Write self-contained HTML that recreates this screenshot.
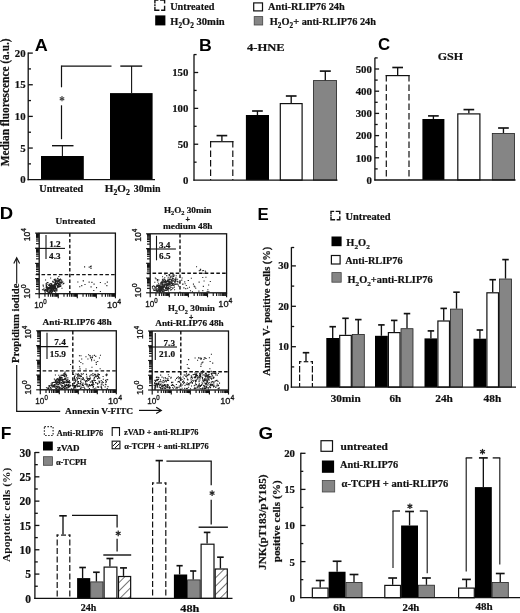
<!DOCTYPE html>
<html><head><meta charset="utf-8"><style>
html,body{margin:0;padding:0;background:#fff;}
body{width:520px;height:613px;overflow:hidden;}
svg{display:block;filter:grayscale(1) blur(0.3px);}
</style></head><body>
<svg width="520" height="613" viewBox="0 0 520 613">
<defs>
<pattern id="hatch" patternUnits="userSpaceOnUse" width="5.9" height="5.9" patternTransform="rotate(45)">
<rect width="5.9" height="5.9" fill="#fff"/><line x1="0" y1="0" x2="0" y2="5.9" stroke="#111" stroke-width="1.15"/>
</pattern>
</defs>
<rect width="520" height="613" fill="#fff"/>
<path d="M154.9 3.43V0.1H158.39M160.06 0.1H164.6V3.43M164.6 5.87V10.2H161.11M159.44 10.2H154.9V6.87M154.9 4.35V5.95" fill="none" stroke="#111" stroke-width="1.4"/>
<text x="170.24" y="9.6" font-family='"Liberation Serif", serif' font-size="10.3" font-weight="bold" fill="#111" textLength="44.15" lengthAdjust="spacingAndGlyphs" stroke="#111" stroke-width="0.2">Untreated</text>
<rect x="155.2" y="15.4" width="10.2" height="10" fill="#000"/>
<text x="170.34" y="25.4" font-family='"Liberation Serif", serif' font-size="10.3" font-weight="bold" fill="#111" textLength="23.45" lengthAdjust="spacingAndGlyphs" stroke="#111" stroke-width="0.2">H<tspan font-size="7.21" dy="3.09">2</tspan><tspan dy="-3.09">O</tspan><tspan font-size="7.21" dy="3.09">2</tspan></text>
<text x="196.53" y="25.4" font-family='"Liberation Serif", serif' font-size="10.3" font-weight="bold" fill="#111" textLength="28.25" lengthAdjust="spacingAndGlyphs" stroke="#111" stroke-width="0.2">30min</text>
<rect x="253.7" y="2.9" width="8.8" height="8" fill="#fff" stroke="#111" stroke-width="1.2"/>
<text x="268.1" y="10" font-family='"Liberation Serif", serif' font-size="10.3" font-weight="bold" fill="#111" textLength="76.69" lengthAdjust="spacingAndGlyphs" stroke="#111" stroke-width="0.2">Anti-RLIP76 24h</text>
<rect x="254.2" y="16.6" width="8.5" height="8.4" fill="#858585" stroke="#444" stroke-width="0.8"/>
<text x="269.85" y="25.4" font-family='"Liberation Serif", serif' font-size="10.3" font-weight="bold" fill="#111" textLength="106.11" lengthAdjust="spacingAndGlyphs" stroke="#111" stroke-width="0.2">H<tspan font-size="7.21" dy="3.09">2</tspan><tspan dy="-3.09">O</tspan><tspan font-size="7.21" dy="3.09">2</tspan><tspan dy="-3.09">+ anti-RLIP76 24h</tspan></text>
<text x="34.75" y="50.6" font-family='"Liberation Sans", sans-serif' font-size="17" font-weight="bold" fill="#000" textLength="13.04" lengthAdjust="spacingAndGlyphs">A</text>
<line x1="28.2" y1="52.5" x2="28.2" y2="180.3" stroke="#111" stroke-width="1.3"/>
<text x="20.23" y="183.4" font-family='"Liberation Serif", serif' font-size="10.8" font-weight="bold" fill="#111" textLength="5.4" lengthAdjust="spacingAndGlyphs" stroke="#111" stroke-width="0.2">0</text>
<line x1="28.2" y1="148.05" x2="32.8" y2="148.05" stroke="#111" stroke-width="1.3"/>
<text x="20.18" y="151.75" font-family='"Liberation Serif", serif' font-size="10.8" font-weight="bold" fill="#111" textLength="5.4" lengthAdjust="spacingAndGlyphs" stroke="#111" stroke-width="0.2">5</text>
<line x1="28.2" y1="116.4" x2="32.8" y2="116.4" stroke="#111" stroke-width="1.3"/>
<text x="14.83" y="120.1" font-family='"Liberation Serif", serif' font-size="10.8" font-weight="bold" fill="#111" textLength="10.8" lengthAdjust="spacingAndGlyphs" stroke="#111" stroke-width="0.2">10</text>
<line x1="28.2" y1="84.75" x2="32.8" y2="84.75" stroke="#111" stroke-width="1.3"/>
<text x="14.78" y="88.45" font-family='"Liberation Serif", serif' font-size="10.8" font-weight="bold" fill="#111" textLength="10.8" lengthAdjust="spacingAndGlyphs" stroke="#111" stroke-width="0.2">15</text>
<line x1="28.2" y1="53.1" x2="32.8" y2="53.1" stroke="#111" stroke-width="1.3"/>
<text x="14.83" y="56.8" font-family='"Liberation Serif", serif' font-size="10.8" font-weight="bold" fill="#111" textLength="10.8" lengthAdjust="spacingAndGlyphs" stroke="#111" stroke-width="0.2">20</text>
<line x1="28.2" y1="163.88" x2="31" y2="163.88" stroke="#111" stroke-width="1.3"/>
<line x1="28.2" y1="132.22" x2="31" y2="132.22" stroke="#111" stroke-width="1.3"/>
<line x1="28.2" y1="100.57" x2="31" y2="100.57" stroke="#111" stroke-width="1.3"/>
<line x1="28.2" y1="68.92" x2="31" y2="68.92" stroke="#111" stroke-width="1.3"/>
<text x="9.5" y="166.27" font-family='"Liberation Serif", serif' font-size="11.8" font-weight="bold" fill="#111" textLength="127.85" lengthAdjust="spacingAndGlyphs" stroke="#111" stroke-width="0.2" transform="rotate(-90 9.5 166.27)">Median fluorescence (a.u.)</text>
<rect x="41" y="156" width="42.8" height="23.7" fill="#000"/>
<rect x="110" y="93.1" width="42.6" height="86.6" fill="#000"/>
<line x1="62.4" y1="156" x2="62.4" y2="145.7" stroke="#111" stroke-width="1.1"/>
<line x1="52" y1="145.7" x2="73.5" y2="145.7" stroke="#111" stroke-width="1.4"/>
<line x1="131.6" y1="93.1" x2="131.6" y2="66.1" stroke="#111" stroke-width="1.1"/>
<line x1="120.3" y1="66.1" x2="142.2" y2="66.1" stroke="#111" stroke-width="1.4"/>
<line x1="61.5" y1="66.1" x2="111.5" y2="66.1" stroke="#111" stroke-width="1.3"/>
<line x1="61.5" y1="65.5" x2="61.5" y2="87.3" stroke="#111" stroke-width="1.2"/>
<line x1="61.5" y1="105.3" x2="61.5" y2="139.2" stroke="#111" stroke-width="1.2"/>
<line x1="62" y1="96.1" x2="62" y2="101.3" stroke="#444" stroke-width="1.15"/>
<line x1="59.75" y1="97.4" x2="64.25" y2="100" stroke="#444" stroke-width="1.15"/>
<line x1="64.25" y1="97.4" x2="59.75" y2="100" stroke="#444" stroke-width="1.15"/>
<text x="39.35" y="191.6" font-family='"Liberation Serif", serif' font-size="10.2" font-weight="bold" fill="#111" textLength="43.75" lengthAdjust="spacingAndGlyphs" stroke="#111" stroke-width="0.2">Untreated</text>
<text x="104.83" y="191.9" font-family='"Liberation Serif", serif' font-size="10.4" font-weight="bold" fill="#111" textLength="24.98" lengthAdjust="spacingAndGlyphs" stroke="#111" stroke-width="0.2">H<tspan font-size="7.28" dy="3.12">2</tspan><tspan dy="-3.12">O</tspan><tspan font-size="7.28" dy="3.12">2</tspan></text>
<text x="133.85" y="191.9" font-family='"Liberation Serif", serif' font-size="10.4" font-weight="bold" fill="#111" textLength="26.72" lengthAdjust="spacingAndGlyphs" stroke="#111" stroke-width="0.2">30min</text>
<text x="198.95" y="50.5" font-family='"Liberation Sans", sans-serif' font-size="17" font-weight="bold" fill="#000" textLength="12.79" lengthAdjust="spacingAndGlyphs">B</text>
<text x="247.01" y="51" font-family='"Liberation Serif", serif' font-size="10.8" font-weight="bold" fill="#111" textLength="37.62" lengthAdjust="spacingAndGlyphs" stroke="#111" stroke-width="0.2">4-HNE</text>
<line x1="194" y1="54.3" x2="194" y2="180.7" stroke="#111" stroke-width="1.3"/>
<text x="183.03" y="183.9" font-family='"Liberation Serif", serif' font-size="10.8" font-weight="bold" fill="#111" textLength="5.4" lengthAdjust="spacingAndGlyphs" stroke="#111" stroke-width="0.2">0</text>
<line x1="194" y1="162.17" x2="196.6" y2="162.17" stroke="#111" stroke-width="1.3"/>
<line x1="194" y1="144.23" x2="198.2" y2="144.23" stroke="#111" stroke-width="1.3"/>
<text x="177.63" y="148.03" font-family='"Liberation Serif", serif' font-size="10.8" font-weight="bold" fill="#111" textLength="10.8" lengthAdjust="spacingAndGlyphs" stroke="#111" stroke-width="0.2">50</text>
<line x1="194" y1="126.3" x2="196.6" y2="126.3" stroke="#111" stroke-width="1.3"/>
<line x1="194" y1="108.37" x2="198.2" y2="108.37" stroke="#111" stroke-width="1.3"/>
<text x="172.23" y="112.17" font-family='"Liberation Serif", serif' font-size="10.8" font-weight="bold" fill="#111" textLength="16.2" lengthAdjust="spacingAndGlyphs" stroke="#111" stroke-width="0.2">100</text>
<line x1="194" y1="90.43" x2="196.6" y2="90.43" stroke="#111" stroke-width="1.3"/>
<line x1="194" y1="72.5" x2="198.2" y2="72.5" stroke="#111" stroke-width="1.3"/>
<text x="172.23" y="76.3" font-family='"Liberation Serif", serif' font-size="10.8" font-weight="bold" fill="#111" textLength="16.2" lengthAdjust="spacingAndGlyphs" stroke="#111" stroke-width="0.2">150</text>
<line x1="194" y1="54.57" x2="196.6" y2="54.57" stroke="#111" stroke-width="1.3"/>
<line x1="210" y1="141.7" x2="233.4" y2="141.7" stroke="#111" stroke-width="1.2"/>
<line x1="210.6" y1="141.1" x2="210.6" y2="180.1" stroke="#111" stroke-width="1.2" stroke-dasharray="6.5,3" stroke-dashoffset="0"/>
<line x1="232.8" y1="141.1" x2="232.8" y2="180.1" stroke="#111" stroke-width="1.2" stroke-dasharray="6.5,3" stroke-dashoffset="0"/>
<line x1="221.9" y1="141.1" x2="221.9" y2="135.6" stroke="#111" stroke-width="1.35"/>
<line x1="216.55" y1="135.6" x2="227.25" y2="135.6" stroke="#111" stroke-width="1.65"/>
<rect x="245.9" y="115" width="23.1" height="65.1" fill="#000"/>
<line x1="257.45" y1="115" x2="257.45" y2="111" stroke="#111" stroke-width="1.35"/>
<line x1="252.1" y1="111" x2="262.8" y2="111" stroke="#111" stroke-width="1.65"/>
<rect x="280.3" y="103.6" width="21.8" height="76.5" fill="#fff" stroke="#111" stroke-width="1.2"/>
<line x1="291.2" y1="103" x2="291.2" y2="96" stroke="#111" stroke-width="1.35"/>
<line x1="285.85" y1="96" x2="296.55" y2="96" stroke="#111" stroke-width="1.65"/>
<rect x="313.4" y="80.6" width="23.2" height="99.5" fill="#858585" stroke="#222" stroke-width="0.8"/>
<line x1="325.3" y1="80.2" x2="325.3" y2="71.1" stroke="#111" stroke-width="1.35"/>
<line x1="319.8" y1="71.1" x2="330.8" y2="71.1" stroke="#111" stroke-width="1.65"/>
<text x="378.03" y="50.3" font-family='"Liberation Sans", sans-serif' font-size="17" font-weight="bold" fill="#000" textLength="12.13" lengthAdjust="spacingAndGlyphs">C</text>
<text x="437.7" y="60.2" font-family='"Liberation Serif", serif' font-size="10.8" font-weight="bold" fill="#111" textLength="25.3" lengthAdjust="spacingAndGlyphs" stroke="#111" stroke-width="0.2">GSH</text>
<line x1="374.9" y1="57.7" x2="374.9" y2="180.6" stroke="#111" stroke-width="1.3"/>
<text x="366.53" y="183.8" font-family='"Liberation Serif", serif' font-size="10.8" font-weight="bold" fill="#111" textLength="5.4" lengthAdjust="spacingAndGlyphs" stroke="#111" stroke-width="0.2">0</text>
<line x1="374.9" y1="168.9" x2="377.7" y2="168.9" stroke="#111" stroke-width="1.3"/>
<line x1="374.9" y1="157.8" x2="379.1" y2="157.8" stroke="#111" stroke-width="1.3"/>
<text x="355.73" y="161.6" font-family='"Liberation Serif", serif' font-size="10.8" font-weight="bold" fill="#111" textLength="16.2" lengthAdjust="spacingAndGlyphs" stroke="#111" stroke-width="0.2">100</text>
<line x1="374.9" y1="146.7" x2="377.7" y2="146.7" stroke="#111" stroke-width="1.3"/>
<line x1="374.9" y1="135.6" x2="379.1" y2="135.6" stroke="#111" stroke-width="1.3"/>
<text x="355.73" y="139.4" font-family='"Liberation Serif", serif' font-size="10.8" font-weight="bold" fill="#111" textLength="16.2" lengthAdjust="spacingAndGlyphs" stroke="#111" stroke-width="0.2">200</text>
<line x1="374.9" y1="124.5" x2="377.7" y2="124.5" stroke="#111" stroke-width="1.3"/>
<line x1="374.9" y1="113.4" x2="379.1" y2="113.4" stroke="#111" stroke-width="1.3"/>
<text x="355.73" y="117.2" font-family='"Liberation Serif", serif' font-size="10.8" font-weight="bold" fill="#111" textLength="16.2" lengthAdjust="spacingAndGlyphs" stroke="#111" stroke-width="0.2">300</text>
<line x1="374.9" y1="102.3" x2="377.7" y2="102.3" stroke="#111" stroke-width="1.3"/>
<line x1="374.9" y1="91.2" x2="379.1" y2="91.2" stroke="#111" stroke-width="1.3"/>
<text x="355.73" y="95" font-family='"Liberation Serif", serif' font-size="10.8" font-weight="bold" fill="#111" textLength="16.2" lengthAdjust="spacingAndGlyphs" stroke="#111" stroke-width="0.2">400</text>
<line x1="374.9" y1="80.1" x2="377.7" y2="80.1" stroke="#111" stroke-width="1.3"/>
<line x1="374.9" y1="69" x2="379.1" y2="69" stroke="#111" stroke-width="1.3"/>
<text x="355.73" y="72.8" font-family='"Liberation Serif", serif' font-size="10.8" font-weight="bold" fill="#111" textLength="16.2" lengthAdjust="spacingAndGlyphs" stroke="#111" stroke-width="0.2">500</text>
<line x1="374.9" y1="57.9" x2="377.7" y2="57.9" stroke="#111" stroke-width="1.3"/>
<line x1="385.7" y1="75.6" x2="409.6" y2="75.6" stroke="#111" stroke-width="1.2"/>
<line x1="386.3" y1="75" x2="386.3" y2="180" stroke="#111" stroke-width="1.2" stroke-dasharray="6.5,3" stroke-dashoffset="0"/>
<line x1="409" y1="75" x2="409" y2="180" stroke="#111" stroke-width="1.2" stroke-dasharray="6.5,3" stroke-dashoffset="0"/>
<line x1="397.65" y1="75" x2="397.65" y2="67.5" stroke="#111" stroke-width="1.35"/>
<line x1="392.3" y1="67.5" x2="403" y2="67.5" stroke="#111" stroke-width="1.65"/>
<rect x="422.4" y="119" width="22" height="61" fill="#000"/>
<line x1="433.4" y1="119" x2="433.4" y2="115.9" stroke="#111" stroke-width="1.35"/>
<line x1="428.05" y1="115.9" x2="438.75" y2="115.9" stroke="#111" stroke-width="1.65"/>
<rect x="457.8" y="113.9" width="22.1" height="66.1" fill="#fff" stroke="#111" stroke-width="1.2"/>
<line x1="468.85" y1="113.3" x2="468.85" y2="109.6" stroke="#111" stroke-width="1.35"/>
<line x1="463.5" y1="109.6" x2="474.2" y2="109.6" stroke="#111" stroke-width="1.65"/>
<rect x="492.3" y="133.4" width="22.3" height="46.6" fill="#858585" stroke="#222" stroke-width="0.8"/>
<line x1="503.45" y1="133" x2="503.45" y2="128" stroke="#111" stroke-width="1.35"/>
<line x1="498.1" y1="128" x2="508.8" y2="128" stroke="#111" stroke-width="1.65"/>
<text x="-0.2" y="219.3" font-family='"Liberation Sans", sans-serif' font-size="17" font-weight="bold" fill="#000" textLength="13.39" lengthAdjust="spacingAndGlyphs">D</text>
<text x="55.57" y="223.5" font-family='"Liberation Serif", serif' font-size="9.2" font-weight="bold" fill="#111" textLength="39.92" lengthAdjust="spacingAndGlyphs" stroke="#111" stroke-width="0.2">Untreated</text>
<path d="M52.63 286.95h1.1v1.1h-1.1zM60.54 283.12h1.1v1.1h-1.1zM46.09 290.53h1.1v1.1h-1.1zM56.74 282.85h1.1v1.1h-1.1zM43.35 287.65h1.1v1.1h-1.1zM52.7 284.8h1.1v1.1h-1.1zM58.12 281.06h1.1v1.1h-1.1zM60.59 280.73h1.1v1.1h-1.1zM62.43 283.49h1.1v1.1h-1.1zM46.49 288.71h1.1v1.1h-1.1zM54.92 286.23h1.1v1.1h-1.1zM52.27 287.93h1.1v1.1h-1.1zM56.35 282.86h1.1v1.1h-1.1zM52.37 289.97h1.1v1.1h-1.1zM51.18 285.97h1.1v1.1h-1.1zM45.95 282.67h1.1v1.1h-1.1zM47.33 289.05h1.1v1.1h-1.1zM60.19 285.84h1.1v1.1h-1.1zM45.14 288.95h1.1v1.1h-1.1zM44.02 290.03h1.1v1.1h-1.1zM45.79 286.04h1.1v1.1h-1.1zM63.36 282.68h1.1v1.1h-1.1zM58.32 276.01h1.1v1.1h-1.1zM57.21 282.61h1.1v1.1h-1.1zM53.42 286.75h1.1v1.1h-1.1zM42.82 285.72h1.1v1.1h-1.1zM48.39 284.69h1.1v1.1h-1.1zM44.26 289.37h1.1v1.1h-1.1zM58.03 286.08h1.1v1.1h-1.1zM53.51 284.74h1.1v1.1h-1.1zM54.17 284.76h1.1v1.1h-1.1zM54.35 285.23h1.1v1.1h-1.1zM56.94 285.48h1.1v1.1h-1.1zM44.33 289.61h1.1v1.1h-1.1zM46.78 282.04h1.1v1.1h-1.1zM46.76 287.27h1.1v1.1h-1.1zM59.51 286h1.1v1.1h-1.1zM49.04 284.82h1.1v1.1h-1.1zM52.64 281.96h1.1v1.1h-1.1zM60.41 279.22h1.1v1.1h-1.1zM46.98 287.59h1.1v1.1h-1.1zM55.46 284.47h1.1v1.1h-1.1zM46.41 289.22h1.1v1.1h-1.1zM48.27 292.01h1.1v1.1h-1.1zM51.01 285.36h1.1v1.1h-1.1zM61.43 287.74h1.1v1.1h-1.1zM54.4 283.02h1.1v1.1h-1.1zM46.08 289.46h1.1v1.1h-1.1zM55.51 283.34h1.1v1.1h-1.1zM50.11 290.81h1.1v1.1h-1.1zM50.91 285.42h1.1v1.1h-1.1zM48.97 286.9h1.1v1.1h-1.1zM60.59 282.47h1.1v1.1h-1.1zM52.62 284.8h1.1v1.1h-1.1zM50.5 286.5h1.1v1.1h-1.1zM56.7 284.81h1.1v1.1h-1.1zM57.74 284.11h1.1v1.1h-1.1zM51.93 284.82h1.1v1.1h-1.1zM55.23 280.86h1.1v1.1h-1.1zM48.54 285.02h1.1v1.1h-1.1zM50.49 286.32h1.1v1.1h-1.1zM48.96 290.75h1.1v1.1h-1.1zM55.39 279.8h1.1v1.1h-1.1zM52.13 285.69h1.1v1.1h-1.1zM60.6 280.99h1.1v1.1h-1.1zM52.16 280.84h1.1v1.1h-1.1zM48.22 288.57h1.1v1.1h-1.1zM59.48 285.64h1.1v1.1h-1.1zM42.56 284.53h1.1v1.1h-1.1zM50.18 286.78h1.1v1.1h-1.1zM57.98 281.15h1.1v1.1h-1.1zM58.03 280.86h1.1v1.1h-1.1zM55.77 283.04h1.1v1.1h-1.1zM55.62 289.01h1.1v1.1h-1.1zM47.01 288.91h1.1v1.1h-1.1zM49.77 285.64h1.1v1.1h-1.1zM54.64 278.74h1.1v1.1h-1.1zM56.27 290.45h1.1v1.1h-1.1zM50.88 287.38h1.1v1.1h-1.1zM56.41 282.53h1.1v1.1h-1.1zM46.74 289.71h1.1v1.1h-1.1zM55.32 290.44h1.1v1.1h-1.1zM49.75 289.36h1.1v1.1h-1.1zM55.02 286.94h1.1v1.1h-1.1zM48.84 287.12h1.1v1.1h-1.1zM56.41 287.63h1.1v1.1h-1.1zM56.03 279.57h1.1v1.1h-1.1zM50.93 288.23h1.1v1.1h-1.1zM52.41 285.87h1.1v1.1h-1.1zM53.92 285.47h1.1v1.1h-1.1zM51.44 286.97h1.1v1.1h-1.1zM57.37 278h1.1v1.1h-1.1zM56.39 280.98h1.1v1.1h-1.1zM54.49 280.21h1.1v1.1h-1.1zM59.12 279.55h1.1v1.1h-1.1zM57.91 280.46h1.1v1.1h-1.1zM54.8 284.53h1.1v1.1h-1.1zM61.25 281.93h1.1v1.1h-1.1zM57.47 282.98h1.1v1.1h-1.1zM54.68 281.01h1.1v1.1h-1.1zM58.65 286.37h1.1v1.1h-1.1zM58.76 283.28h1.1v1.1h-1.1zM57.89 282.88h1.1v1.1h-1.1zM51.89 284.89h1.1v1.1h-1.1zM57.46 277.79h1.1v1.1h-1.1zM49.78 284.97h1.1v1.1h-1.1zM47.1 291.43h1.1v1.1h-1.1zM60.29 281.68h1.1v1.1h-1.1zM43.9 290.05h1.1v1.1h-1.1zM58.23 280.72h1.1v1.1h-1.1zM47.59 282.23h1.1v1.1h-1.1zM54.6 278.51h1.1v1.1h-1.1zM51.04 285.83h1.1v1.1h-1.1zM52.53 289.01h1.1v1.1h-1.1zM54.19 279.6h1.1v1.1h-1.1zM56.61 281.93h1.1v1.1h-1.1zM50.06 277.4h1.1v1.1h-1.1zM58.88 284.31h1.1v1.1h-1.1zM50.75 284.89h1.1v1.1h-1.1zM52.12 284.49h1.1v1.1h-1.1zM46.79 289.26h1.1v1.1h-1.1zM56.43 289.34h1.1v1.1h-1.1zM42.6 288.96h1.1v1.1h-1.1zM48.03 288.13h1.1v1.1h-1.1zM44.25 290.57h1.1v1.1h-1.1zM47.95 284.56h1.1v1.1h-1.1zM58.09 284.62h1.1v1.1h-1.1zM48.9 292.28h1.1v1.1h-1.1zM54.97 282.5h1.1v1.1h-1.1zM51.3 288.83h1.1v1.1h-1.1zM54.32 285.43h1.1v1.1h-1.1zM48.67 290.58h1.1v1.1h-1.1zM41.89 289.19h1.1v1.1h-1.1zM61.21 279.76h1.1v1.1h-1.1zM54.12 282.22h1.1v1.1h-1.1zM51.32 286.28h1.1v1.1h-1.1zM53.64 286.82h1.1v1.1h-1.1zM47.21 290.8h1.1v1.1h-1.1zM61.65 281.72h1.1v1.1h-1.1zM50.52 289.96h1.1v1.1h-1.1zM48.69 286.68h1.1v1.1h-1.1zM50.26 283.08h1.1v1.1h-1.1zM62.17 281.3h1.1v1.1h-1.1zM53.61 279h1.1v1.1h-1.1zM59.28 280.17h1.1v1.1h-1.1zM57.5 285.69h1.1v1.1h-1.1zM57.91 281.19h1.1v1.1h-1.1zM56.91 277.82h1.1v1.1h-1.1zM51.01 284.29h1.1v1.1h-1.1zM50.31 283.12h1.1v1.1h-1.1zM46.9 288.51h1.1v1.1h-1.1zM58.95 279.1h1.1v1.1h-1.1zM43.46 289.65h1.1v1.1h-1.1zM52.71 280.7h1.1v1.1h-1.1zM46.22 287.62h1.1v1.1h-1.1zM51.15 286.18h1.1v1.1h-1.1zM50.93 286.93h1.1v1.1h-1.1zM45.6 285.2h1.1v1.1h-1.1zM48.93 284.25h1.1v1.1h-1.1zM53.5 284.13h1.1v1.1h-1.1zM52.43 285.59h1.1v1.1h-1.1zM56.76 279.61h1.1v1.1h-1.1zM57.9 279.17h1.1v1.1h-1.1zM53.29 284.53h1.1v1.1h-1.1zM54.23 279.08h1.1v1.1h-1.1zM49.89 290.19h1.1v1.1h-1.1zM51.85 286.08h1.1v1.1h-1.1zM51.39 286.28h1.1v1.1h-1.1zM58.07 280.55h1.1v1.1h-1.1zM46.18 289.65h1.1v1.1h-1.1zM57.81 279.54h1.1v1.1h-1.1zM53.38 286.31h1.1v1.1h-1.1zM49.49 288.19h1.1v1.1h-1.1zM52.14 284.53h1.1v1.1h-1.1zM47.48 289.64h1.1v1.1h-1.1zM45.6 287.28h1.1v1.1h-1.1zM53.44 288.23h1.1v1.1h-1.1zM46.95 288.63h1.1v1.1h-1.1zM56.28 282.53h1.1v1.1h-1.1zM44.9 290.36h1.1v1.1h-1.1zM50.96 290.64h1.1v1.1h-1.1zM49.14 283.61h1.1v1.1h-1.1zM47.07 287.9h1.1v1.1h-1.1zM51.38 288.23h1.1v1.1h-1.1zM54.05 283.76h1.1v1.1h-1.1zM58.7 281.7h1.1v1.1h-1.1zM53.42 289.01h1.1v1.1h-1.1zM58.85 284.58h1.1v1.1h-1.1zM54.77 284.25h1.1v1.1h-1.1zM46.4 290.61h1.1v1.1h-1.1zM54.94 281.4h1.1v1.1h-1.1zM58.84 285.91h1.1v1.1h-1.1zM54.24 287.38h1.1v1.1h-1.1zM59.84 278.6h1.1v1.1h-1.1zM53.69 286.32h1.1v1.1h-1.1zM45.66 289.4h1.1v1.1h-1.1zM44.59 291.92h1.1v1.1h-1.1zM45.34 283.5h1.1v1.1h-1.1zM59.44 282.18h1.1v1.1h-1.1zM57.19 284.89h1.1v1.1h-1.1zM51.09 283.29h1.1v1.1h-1.1zM53.58 285.83h1.1v1.1h-1.1zM52.05 287.7h1.1v1.1h-1.1zM49.09 287.92h1.1v1.1h-1.1zM49.96 287.99h1.1v1.1h-1.1zM57.7 284.48h1.1v1.1h-1.1zM56.74 281.2h1.1v1.1h-1.1zM47.73 287.94h1.1v1.1h-1.1zM58.68 280.82h1.1v1.1h-1.1zM54.8 282.12h1.1v1.1h-1.1zM52.02 285.38h1.1v1.1h-1.1zM49.05 285.4h1.1v1.1h-1.1zM59.7 281.98h1.1v1.1h-1.1zM51.78 287.07h1.1v1.1h-1.1zM55.22 288.33h1.1v1.1h-1.1zM57.45 280.07h1.1v1.1h-1.1zM52.6 288.77h1.1v1.1h-1.1zM50.38 285.22h1.1v1.1h-1.1zM47.85 291.76h1.1v1.1h-1.1zM59.64 283.79h1.1v1.1h-1.1zM55.97 284.22h1.1v1.1h-1.1zM54.74 288.34h1.1v1.1h-1.1zM55.01 285.97h1.1v1.1h-1.1zM51.67 291.7h1.1v1.1h-1.1zM53.32 290.59h1.1v1.1h-1.1zM46.41 283.88h1.1v1.1h-1.1zM49.44 290.49h1.1v1.1h-1.1zM56.82 286.48h1.1v1.1h-1.1zM49.09 285.5h1.1v1.1h-1.1zM49.36 289.38h1.1v1.1h-1.1zM54.14 286.32h1.1v1.1h-1.1zM52.71 287.63h1.1v1.1h-1.1zM54.35 290.24h1.1v1.1h-1.1zM50.98 290.21h1.1v1.1h-1.1zM53.69 287.79h1.1v1.1h-1.1zM52.76 289.68h1.1v1.1h-1.1zM51.07 286.35h1.1v1.1h-1.1zM55.76 288.02h1.1v1.1h-1.1zM50.26 289.14h1.1v1.1h-1.1zM47.66 288.15h1.1v1.1h-1.1zM47.99 286.96h1.1v1.1h-1.1zM46.75 286.24h1.1v1.1h-1.1zM54.65 287.56h1.1v1.1h-1.1zM48.43 292.28h1.1v1.1h-1.1zM50.15 291.66h1.1v1.1h-1.1zM50.46 284.41h1.1v1.1h-1.1zM57.45 286.95h1.1v1.1h-1.1zM54.25 290.94h1.1v1.1h-1.1zM48.14 288.19h1.1v1.1h-1.1zM50.32 289.5h1.1v1.1h-1.1zM51.98 284.91h1.1v1.1h-1.1zM52.18 289.89h1.1v1.1h-1.1zM51.15 289.39h1.1v1.1h-1.1zM50.45 287.89h1.1v1.1h-1.1zM53.04 288.36h1.1v1.1h-1.1zM55.75 290.34h1.1v1.1h-1.1zM54.5 289.78h1.1v1.1h-1.1zM52.48 285.17h1.1v1.1h-1.1zM55.14 292.28h1.1v1.1h-1.1zM52.68 287.4h1.1v1.1h-1.1zM51.91 290.97h1.1v1.1h-1.1zM52.86 285.61h1.1v1.1h-1.1zM51.51 286.14h1.1v1.1h-1.1zM51.43 285.83h1.1v1.1h-1.1zM49.45 291.65h1.1v1.1h-1.1zM55.1 284.08h1.1v1.1h-1.1zM49.14 286.93h1.1v1.1h-1.1zM50.88 284.64h1.1v1.1h-1.1zM54.63 284.08h1.1v1.1h-1.1zM54.06 289.72h1.1v1.1h-1.1zM50.94 286.42h1.1v1.1h-1.1zM52.2 288.38h1.1v1.1h-1.1zM45.87 284.96h1.1v1.1h-1.1zM53.58 287.75h1.1v1.1h-1.1zM50.8 285.59h1.1v1.1h-1.1zM49.96 286.15h1.1v1.1h-1.1zM60.22 284.95h1.1v1.1h-1.1zM56.52 289.19h1.1v1.1h-1.1zM52.65 288.5h1.1v1.1h-1.1zM50.91 291.95h1.1v1.1h-1.1zM106.77 281.56h1.1v1.1h-1.1zM82.88 280.34h1.1v1.1h-1.1zM90.53 286.28h1.1v1.1h-1.1zM84.44 284.02h1.1v1.1h-1.1zM99.82 290.9h1.1v1.1h-1.1zM81.21 285.09h1.1v1.1h-1.1zM93.24 289.95h1.1v1.1h-1.1zM106.32 285.06h1.1v1.1h-1.1zM95.99 287.1h1.1v1.1h-1.1zM99.81 281.91h1.1v1.1h-1.1zM77.3 281.39h1.1v1.1h-1.1zM104.61 283.27h1.1v1.1h-1.1zM88.58 281.56h1.1v1.1h-1.1zM82.65 280.25h1.1v1.1h-1.1zM91.37 281.87h1.1v1.1h-1.1zM93.51 283.56h1.1v1.1h-1.1zM79.19 286.27h1.1v1.1h-1.1zM88.67 266.58h1.1v1.1h-1.1zM90.05 266.12h1.1v1.1h-1.1zM90.58 265.46h1.1v1.1h-1.1zM90.39 266.3h1.1v1.1h-1.1zM84.05 266.36h1.1v1.1h-1.1zM90.45 267.92h1.1v1.1h-1.1zM45 279.5h1.1v1.1h-1.1zM63 283h1.1v1.1h-1.1z" fill="#1e1e1e"/>
<rect x="39.2" y="233.1" width="76.2" height="60.6" fill="none" stroke="#111" stroke-width="1.3"/>
<line x1="35.1" y1="293.7" x2="38.9" y2="293.7" stroke="#111" stroke-width="1.15"/>
<line x1="36" y1="289.14" x2="38.9" y2="289.14" stroke="#111" stroke-width="1.15"/>
<line x1="36" y1="286.47" x2="38.9" y2="286.47" stroke="#111" stroke-width="1.15"/>
<line x1="36" y1="284.58" x2="38.9" y2="284.58" stroke="#111" stroke-width="1.15"/>
<line x1="36" y1="283.11" x2="38.9" y2="283.11" stroke="#111" stroke-width="1.15"/>
<line x1="36" y1="281.91" x2="38.9" y2="281.91" stroke="#111" stroke-width="1.15"/>
<line x1="36" y1="280.9" x2="38.9" y2="280.9" stroke="#111" stroke-width="1.15"/>
<line x1="36" y1="280.02" x2="38.9" y2="280.02" stroke="#111" stroke-width="1.15"/>
<line x1="36" y1="279.24" x2="38.9" y2="279.24" stroke="#111" stroke-width="1.15"/>
<line x1="35.1" y1="278.55" x2="38.9" y2="278.55" stroke="#111" stroke-width="1.15"/>
<line x1="36" y1="273.99" x2="38.9" y2="273.99" stroke="#111" stroke-width="1.15"/>
<line x1="36" y1="271.32" x2="38.9" y2="271.32" stroke="#111" stroke-width="1.15"/>
<line x1="36" y1="269.43" x2="38.9" y2="269.43" stroke="#111" stroke-width="1.15"/>
<line x1="36" y1="267.96" x2="38.9" y2="267.96" stroke="#111" stroke-width="1.15"/>
<line x1="36" y1="266.76" x2="38.9" y2="266.76" stroke="#111" stroke-width="1.15"/>
<line x1="36" y1="265.75" x2="38.9" y2="265.75" stroke="#111" stroke-width="1.15"/>
<line x1="36" y1="264.87" x2="38.9" y2="264.87" stroke="#111" stroke-width="1.15"/>
<line x1="36" y1="264.09" x2="38.9" y2="264.09" stroke="#111" stroke-width="1.15"/>
<line x1="35.1" y1="263.4" x2="38.9" y2="263.4" stroke="#111" stroke-width="1.15"/>
<line x1="36" y1="258.84" x2="38.9" y2="258.84" stroke="#111" stroke-width="1.15"/>
<line x1="36" y1="256.17" x2="38.9" y2="256.17" stroke="#111" stroke-width="1.15"/>
<line x1="36" y1="254.28" x2="38.9" y2="254.28" stroke="#111" stroke-width="1.15"/>
<line x1="36" y1="252.81" x2="38.9" y2="252.81" stroke="#111" stroke-width="1.15"/>
<line x1="36" y1="251.61" x2="38.9" y2="251.61" stroke="#111" stroke-width="1.15"/>
<line x1="36" y1="250.6" x2="38.9" y2="250.6" stroke="#111" stroke-width="1.15"/>
<line x1="36" y1="249.72" x2="38.9" y2="249.72" stroke="#111" stroke-width="1.15"/>
<line x1="36" y1="248.94" x2="38.9" y2="248.94" stroke="#111" stroke-width="1.15"/>
<line x1="35.1" y1="248.25" x2="38.9" y2="248.25" stroke="#111" stroke-width="1.15"/>
<line x1="36" y1="243.69" x2="38.9" y2="243.69" stroke="#111" stroke-width="1.15"/>
<line x1="36" y1="241.02" x2="38.9" y2="241.02" stroke="#111" stroke-width="1.15"/>
<line x1="36" y1="239.13" x2="38.9" y2="239.13" stroke="#111" stroke-width="1.15"/>
<line x1="36" y1="237.66" x2="38.9" y2="237.66" stroke="#111" stroke-width="1.15"/>
<line x1="36" y1="236.46" x2="38.9" y2="236.46" stroke="#111" stroke-width="1.15"/>
<line x1="36" y1="235.45" x2="38.9" y2="235.45" stroke="#111" stroke-width="1.15"/>
<line x1="36" y1="234.57" x2="38.9" y2="234.57" stroke="#111" stroke-width="1.15"/>
<line x1="36" y1="233.79" x2="38.9" y2="233.79" stroke="#111" stroke-width="1.15"/>
<line x1="35.1" y1="233.1" x2="38.9" y2="233.1" stroke="#111" stroke-width="1.15"/>
<line x1="39.2" y1="294" x2="39.2" y2="298.2" stroke="#111" stroke-width="1.15"/>
<line x1="44.93" y1="294" x2="44.93" y2="296.8" stroke="#111" stroke-width="1.15"/>
<line x1="48.29" y1="294" x2="48.29" y2="296.8" stroke="#111" stroke-width="1.15"/>
<line x1="50.67" y1="294" x2="50.67" y2="296.8" stroke="#111" stroke-width="1.15"/>
<line x1="52.52" y1="294" x2="52.52" y2="296.8" stroke="#111" stroke-width="1.15"/>
<line x1="54.02" y1="294" x2="54.02" y2="296.8" stroke="#111" stroke-width="1.15"/>
<line x1="55.3" y1="294" x2="55.3" y2="296.8" stroke="#111" stroke-width="1.15"/>
<line x1="56.4" y1="294" x2="56.4" y2="296.8" stroke="#111" stroke-width="1.15"/>
<line x1="57.38" y1="294" x2="57.38" y2="296.8" stroke="#111" stroke-width="1.15"/>
<line x1="58.25" y1="294" x2="58.25" y2="298.2" stroke="#111" stroke-width="1.15"/>
<line x1="63.98" y1="294" x2="63.98" y2="296.8" stroke="#111" stroke-width="1.15"/>
<line x1="67.34" y1="294" x2="67.34" y2="296.8" stroke="#111" stroke-width="1.15"/>
<line x1="69.72" y1="294" x2="69.72" y2="296.8" stroke="#111" stroke-width="1.15"/>
<line x1="71.57" y1="294" x2="71.57" y2="296.8" stroke="#111" stroke-width="1.15"/>
<line x1="73.07" y1="294" x2="73.07" y2="296.8" stroke="#111" stroke-width="1.15"/>
<line x1="74.35" y1="294" x2="74.35" y2="296.8" stroke="#111" stroke-width="1.15"/>
<line x1="75.45" y1="294" x2="75.45" y2="296.8" stroke="#111" stroke-width="1.15"/>
<line x1="76.43" y1="294" x2="76.43" y2="296.8" stroke="#111" stroke-width="1.15"/>
<line x1="77.3" y1="294" x2="77.3" y2="298.2" stroke="#111" stroke-width="1.15"/>
<line x1="83.03" y1="294" x2="83.03" y2="296.8" stroke="#111" stroke-width="1.15"/>
<line x1="86.39" y1="294" x2="86.39" y2="296.8" stroke="#111" stroke-width="1.15"/>
<line x1="88.77" y1="294" x2="88.77" y2="296.8" stroke="#111" stroke-width="1.15"/>
<line x1="90.62" y1="294" x2="90.62" y2="296.8" stroke="#111" stroke-width="1.15"/>
<line x1="92.12" y1="294" x2="92.12" y2="296.8" stroke="#111" stroke-width="1.15"/>
<line x1="93.4" y1="294" x2="93.4" y2="296.8" stroke="#111" stroke-width="1.15"/>
<line x1="94.5" y1="294" x2="94.5" y2="296.8" stroke="#111" stroke-width="1.15"/>
<line x1="95.48" y1="294" x2="95.48" y2="296.8" stroke="#111" stroke-width="1.15"/>
<line x1="96.35" y1="294" x2="96.35" y2="298.2" stroke="#111" stroke-width="1.15"/>
<line x1="102.08" y1="294" x2="102.08" y2="296.8" stroke="#111" stroke-width="1.15"/>
<line x1="105.44" y1="294" x2="105.44" y2="296.8" stroke="#111" stroke-width="1.15"/>
<line x1="107.82" y1="294" x2="107.82" y2="296.8" stroke="#111" stroke-width="1.15"/>
<line x1="109.67" y1="294" x2="109.67" y2="296.8" stroke="#111" stroke-width="1.15"/>
<line x1="111.17" y1="294" x2="111.17" y2="296.8" stroke="#111" stroke-width="1.15"/>
<line x1="112.45" y1="294" x2="112.45" y2="296.8" stroke="#111" stroke-width="1.15"/>
<line x1="113.55" y1="294" x2="113.55" y2="296.8" stroke="#111" stroke-width="1.15"/>
<line x1="114.53" y1="294" x2="114.53" y2="296.8" stroke="#111" stroke-width="1.15"/>
<line x1="115.4" y1="294" x2="115.4" y2="298.2" stroke="#111" stroke-width="1.15"/>
<line x1="69.8" y1="233.1" x2="69.8" y2="293.7" stroke="#111" stroke-width="1.4" stroke-dasharray="3.6,2.2"/>
<line x1="35.7" y1="274.6" x2="115.4" y2="274.6" stroke="#111" stroke-width="1.4" stroke-dasharray="3.6,2.2"/>
<line x1="46" y1="235.1" x2="46" y2="259" stroke="#111" stroke-width="1.1"/>
<line x1="35.7" y1="248.4" x2="65" y2="248.4" stroke="#111" stroke-width="1.1"/>
<text x="49.17" y="247.2" font-family='"Liberation Serif", serif' font-size="9.2" font-weight="bold" fill="#111" textLength="11.5" lengthAdjust="spacingAndGlyphs" stroke="#111" stroke-width="0.2">1.2</text>
<text x="49.12" y="258.7" font-family='"Liberation Serif", serif' font-size="9.2" font-weight="bold" fill="#111" textLength="11.5" lengthAdjust="spacingAndGlyphs" stroke="#111" stroke-width="0.2">4.3</text>
<text x="30" y="241.14" font-family='"Liberation Sans", sans-serif' font-size="9.2" font-weight="normal" fill="#111" textLength="13.04" lengthAdjust="spacingAndGlyphs" stroke="#111" stroke-width="0.3" transform="rotate(-90 30 241.14)">10<tspan font-size="6.9" dy="-4.14">4</tspan></text>
<text x="30" y="298.71" font-family='"Liberation Sans", sans-serif' font-size="9.2" font-weight="normal" fill="#111" textLength="14.47" lengthAdjust="spacingAndGlyphs" stroke="#111" stroke-width="0.3" transform="rotate(-90 30 298.71)">10<tspan font-size="6.9" dy="-4.14">0</tspan></text>
<text x="34.19" y="307.7" font-family='"Liberation Sans", sans-serif' font-size="9.2" font-weight="normal" fill="#111" textLength="12.54" lengthAdjust="spacingAndGlyphs" stroke="#111" stroke-width="0.3">10<tspan font-size="6.9" dy="-4.14">0</tspan></text>
<text x="107.11" y="307.7" font-family='"Liberation Sans", sans-serif' font-size="9.2" font-weight="normal" fill="#111" textLength="14.11" lengthAdjust="spacingAndGlyphs" stroke="#111" stroke-width="0.3">10<tspan font-size="6.9" dy="-4.14">4</tspan></text>
<text x="164.06" y="212.6" font-family='"Liberation Serif", serif' font-size="8.9" font-weight="bold" fill="#111" textLength="20.49" lengthAdjust="spacingAndGlyphs" stroke="#111" stroke-width="0.2">H<tspan font-size="6.23" dy="2.67">2</tspan><tspan dy="-2.67">O</tspan><tspan font-size="6.23" dy="2.67">2</tspan></text>
<text x="186.67" y="212.6" font-family='"Liberation Serif", serif' font-size="8.9" font-weight="bold" fill="#111" textLength="24.78" lengthAdjust="spacingAndGlyphs" stroke="#111" stroke-width="0.2">30min</text>
<text x="185.51" y="221.9" font-family='"Liberation Serif", serif' font-size="9" font-weight="bold" fill="#111" textLength="4.49" lengthAdjust="spacingAndGlyphs" stroke="#111" stroke-width="0.35">+</text>
<text x="162.97" y="228.5" font-family='"Liberation Serif", serif' font-size="8.9" font-weight="bold" fill="#111" textLength="49.59" lengthAdjust="spacingAndGlyphs" stroke="#111" stroke-width="0.2">medium 48h</text>
<path d="M171.84 282.79h1.1v1.1h-1.1zM172.02 280.13h1.1v1.1h-1.1zM158.87 285.61h1.1v1.1h-1.1zM167.7 286.38h1.1v1.1h-1.1zM161.33 287.21h1.1v1.1h-1.1zM159.99 289.95h1.1v1.1h-1.1zM167.43 283.15h1.1v1.1h-1.1zM159.71 283.59h1.1v1.1h-1.1zM173.28 284.83h1.1v1.1h-1.1zM164.92 283.61h1.1v1.1h-1.1zM159.19 285.65h1.1v1.1h-1.1zM162.16 283.85h1.1v1.1h-1.1zM159.86 288.79h1.1v1.1h-1.1zM173.69 284.28h1.1v1.1h-1.1zM157.99 287.01h1.1v1.1h-1.1zM159.86 285.35h1.1v1.1h-1.1zM171.35 279.1h1.1v1.1h-1.1zM167.43 278.58h1.1v1.1h-1.1zM165.19 281.15h1.1v1.1h-1.1zM165.7 280.74h1.1v1.1h-1.1zM162.14 278.85h1.1v1.1h-1.1zM167.29 285.13h1.1v1.1h-1.1zM174.21 279.21h1.1v1.1h-1.1zM170.55 286.78h1.1v1.1h-1.1zM174.28 281.88h1.1v1.1h-1.1zM171.17 281.87h1.1v1.1h-1.1zM172.55 277.71h1.1v1.1h-1.1zM172.52 273.34h1.1v1.1h-1.1zM176.88 283.51h1.1v1.1h-1.1zM169.78 288.48h1.1v1.1h-1.1zM166.36 285.01h1.1v1.1h-1.1zM174.69 281.2h1.1v1.1h-1.1zM159.29 286.46h1.1v1.1h-1.1zM162.48 290.75h1.1v1.1h-1.1zM162.26 282.31h1.1v1.1h-1.1zM167.2 289.46h1.1v1.1h-1.1zM161.82 290.93h1.1v1.1h-1.1zM169.06 280.49h1.1v1.1h-1.1zM164.33 283.28h1.1v1.1h-1.1zM172.32 287.34h1.1v1.1h-1.1zM157.24 284.52h1.1v1.1h-1.1zM164.57 281.89h1.1v1.1h-1.1zM152.75 285.33h1.1v1.1h-1.1zM167.03 281.22h1.1v1.1h-1.1zM159.62 290.84h1.1v1.1h-1.1zM158.62 288.44h1.1v1.1h-1.1zM177.99 285.52h1.1v1.1h-1.1zM161.46 281.31h1.1v1.1h-1.1zM160.64 286.13h1.1v1.1h-1.1zM163.62 281.75h1.1v1.1h-1.1zM168.65 282.31h1.1v1.1h-1.1zM171.16 288.98h1.1v1.1h-1.1zM166.15 275.04h1.1v1.1h-1.1zM174.64 281.24h1.1v1.1h-1.1zM160.78 287.73h1.1v1.1h-1.1zM166.95 283.39h1.1v1.1h-1.1zM162.3 282.82h1.1v1.1h-1.1zM175.93 283.53h1.1v1.1h-1.1zM171.37 283.14h1.1v1.1h-1.1zM163.84 285.48h1.1v1.1h-1.1zM151.88 287.28h1.1v1.1h-1.1zM163.32 280.99h1.1v1.1h-1.1zM160.78 283.39h1.1v1.1h-1.1zM159.23 291.28h1.1v1.1h-1.1zM168.85 278.84h1.1v1.1h-1.1zM167.2 285.07h1.1v1.1h-1.1zM165.7 283.46h1.1v1.1h-1.1zM171.4 280.79h1.1v1.1h-1.1zM156.51 288.11h1.1v1.1h-1.1zM156.83 279.91h1.1v1.1h-1.1zM158.79 284.63h1.1v1.1h-1.1zM157.57 285.13h1.1v1.1h-1.1zM169.01 284.28h1.1v1.1h-1.1zM172.51 283.4h1.1v1.1h-1.1zM168.79 287.89h1.1v1.1h-1.1zM169.48 284.52h1.1v1.1h-1.1zM162.1 282.87h1.1v1.1h-1.1zM166.18 287.51h1.1v1.1h-1.1zM166.57 283.9h1.1v1.1h-1.1zM172.26 278.27h1.1v1.1h-1.1zM172.24 288.01h1.1v1.1h-1.1zM158.36 286.37h1.1v1.1h-1.1zM161.22 285.41h1.1v1.1h-1.1zM157.52 285.17h1.1v1.1h-1.1zM170.72 285.01h1.1v1.1h-1.1zM167.15 287.46h1.1v1.1h-1.1zM169.94 281.26h1.1v1.1h-1.1zM160.91 281.51h1.1v1.1h-1.1zM158.49 289.24h1.1v1.1h-1.1zM164.93 289.94h1.1v1.1h-1.1zM168.21 281.88h1.1v1.1h-1.1zM163.3 284.32h1.1v1.1h-1.1zM153.32 289.95h1.1v1.1h-1.1zM165.39 284.31h1.1v1.1h-1.1zM161.58 284.97h1.1v1.1h-1.1zM171.56 281.03h1.1v1.1h-1.1zM175.65 275.13h1.1v1.1h-1.1zM165.97 286.03h1.1v1.1h-1.1zM159.13 287.51h1.1v1.1h-1.1zM170.79 281.72h1.1v1.1h-1.1zM168.36 274.32h1.1v1.1h-1.1zM154.65 286.85h1.1v1.1h-1.1zM171.48 280.23h1.1v1.1h-1.1zM164.22 286.15h1.1v1.1h-1.1zM163.27 281.74h1.1v1.1h-1.1zM166.4 282.63h1.1v1.1h-1.1zM165.99 288.16h1.1v1.1h-1.1zM155.56 278.33h1.1v1.1h-1.1zM157.67 284.86h1.1v1.1h-1.1zM175.38 277.32h1.1v1.1h-1.1zM163.53 286.85h1.1v1.1h-1.1zM168.13 288.48h1.1v1.1h-1.1zM164.91 279.8h1.1v1.1h-1.1zM158.71 287.53h1.1v1.1h-1.1zM159.89 290.65h1.1v1.1h-1.1zM171.76 277.87h1.1v1.1h-1.1zM171.91 283.61h1.1v1.1h-1.1zM155.63 286.12h1.1v1.1h-1.1zM160.99 287.43h1.1v1.1h-1.1zM161.53 287.78h1.1v1.1h-1.1zM177.32 280.91h1.1v1.1h-1.1zM168.03 283.92h1.1v1.1h-1.1zM162.16 282.44h1.1v1.1h-1.1zM169.26 283.28h1.1v1.1h-1.1zM169.32 285.82h1.1v1.1h-1.1zM159.56 286.83h1.1v1.1h-1.1zM167.67 288.66h1.1v1.1h-1.1zM160.31 287.67h1.1v1.1h-1.1zM159.2 287.58h1.1v1.1h-1.1zM157.02 278.99h1.1v1.1h-1.1zM166.82 279.88h1.1v1.1h-1.1zM172.23 284.71h1.1v1.1h-1.1zM161.84 279.43h1.1v1.1h-1.1zM171.48 276.35h1.1v1.1h-1.1zM177.5 284.19h1.1v1.1h-1.1zM163.59 286.34h1.1v1.1h-1.1zM154.81 277.41h1.1v1.1h-1.1zM167.54 279.79h1.1v1.1h-1.1zM172.9 275.9h1.1v1.1h-1.1zM164.17 283.8h1.1v1.1h-1.1zM159.86 291.29h1.1v1.1h-1.1zM163.1 280.6h1.1v1.1h-1.1zM155.67 289.64h1.1v1.1h-1.1zM173.24 280.08h1.1v1.1h-1.1zM166.43 288.09h1.1v1.1h-1.1zM162.5 286.76h1.1v1.1h-1.1zM164.38 279.25h1.1v1.1h-1.1zM171.12 280.07h1.1v1.1h-1.1zM167.98 290.38h1.1v1.1h-1.1zM164.44 273.68h1.1v1.1h-1.1zM156 284.66h1.1v1.1h-1.1zM177.18 281.36h1.1v1.1h-1.1zM172.13 278.36h1.1v1.1h-1.1zM168.25 283.28h1.1v1.1h-1.1zM160.78 282.54h1.1v1.1h-1.1zM167.7 282.92h1.1v1.1h-1.1zM168.69 278.7h1.1v1.1h-1.1zM170.62 282.61h1.1v1.1h-1.1zM170.25 289.75h1.1v1.1h-1.1zM160.02 286.58h1.1v1.1h-1.1zM163.9 279.23h1.1v1.1h-1.1zM161.93 289.33h1.1v1.1h-1.1zM175.11 279.1h1.1v1.1h-1.1zM167 280h1.1v1.1h-1.1zM171.83 284.55h1.1v1.1h-1.1zM157.33 281.39h1.1v1.1h-1.1zM170.06 276.35h1.1v1.1h-1.1zM165.58 282.25h1.1v1.1h-1.1zM163.14 289.17h1.1v1.1h-1.1zM165.94 289.91h1.1v1.1h-1.1zM162 276.13h1.1v1.1h-1.1zM169.59 277.16h1.1v1.1h-1.1zM170.98 280.21h1.1v1.1h-1.1zM169.66 281.76h1.1v1.1h-1.1zM174.93 280.3h1.1v1.1h-1.1zM173.52 281.02h1.1v1.1h-1.1zM173.33 278.48h1.1v1.1h-1.1zM164.19 281.27h1.1v1.1h-1.1zM173.81 286.58h1.1v1.1h-1.1zM162.65 279.85h1.1v1.1h-1.1zM161.79 280.78h1.1v1.1h-1.1zM161.22 285.41h1.1v1.1h-1.1zM170.21 283.34h1.1v1.1h-1.1zM171.88 284h1.1v1.1h-1.1zM164.41 285.18h1.1v1.1h-1.1zM167.94 286.91h1.1v1.1h-1.1zM156.79 284.82h1.1v1.1h-1.1zM167.44 278.57h1.1v1.1h-1.1zM166.19 286.45h1.1v1.1h-1.1zM154.25 281.69h1.1v1.1h-1.1zM155.85 287.39h1.1v1.1h-1.1zM167.67 276.66h1.1v1.1h-1.1zM178.82 282.25h1.1v1.1h-1.1zM171.02 280.13h1.1v1.1h-1.1zM163.45 278.46h1.1v1.1h-1.1zM173.21 282.99h1.1v1.1h-1.1zM157.96 283.2h1.1v1.1h-1.1zM153.23 288.77h1.1v1.1h-1.1zM158.5 286.69h1.1v1.1h-1.1zM161.92 285.87h1.1v1.1h-1.1zM161.52 289.62h1.1v1.1h-1.1zM168.02 283.51h1.1v1.1h-1.1zM167.28 285.02h1.1v1.1h-1.1zM167.4 280.17h1.1v1.1h-1.1zM170.73 281.67h1.1v1.1h-1.1zM171.27 284.89h1.1v1.1h-1.1zM173.47 275.43h1.1v1.1h-1.1zM163.4 289.58h1.1v1.1h-1.1zM158.97 285.26h1.1v1.1h-1.1zM168.46 281.35h1.1v1.1h-1.1zM153.86 285.85h1.1v1.1h-1.1zM173.5 274.43h1.1v1.1h-1.1zM156.48 291.03h1.1v1.1h-1.1zM163 285.36h1.1v1.1h-1.1zM164.33 280.79h1.1v1.1h-1.1zM159.18 287.29h1.1v1.1h-1.1zM163.31 285.49h1.1v1.1h-1.1zM165.87 284.82h1.1v1.1h-1.1zM166.94 283.65h1.1v1.1h-1.1zM169.21 274.1h1.1v1.1h-1.1zM175.27 278.08h1.1v1.1h-1.1zM158.28 279.5h1.1v1.1h-1.1zM172.06 278.28h1.1v1.1h-1.1zM169.45 281.16h1.1v1.1h-1.1zM156.19 289.73h1.1v1.1h-1.1zM169.57 286.5h1.1v1.1h-1.1zM159.98 287.09h1.1v1.1h-1.1zM157.9 285.74h1.1v1.1h-1.1zM165.73 284.09h1.1v1.1h-1.1zM161.41 281.76h1.1v1.1h-1.1zM161.6 286.11h1.1v1.1h-1.1zM172.43 274.31h1.1v1.1h-1.1zM168.22 280.15h1.1v1.1h-1.1zM163.86 284.16h1.1v1.1h-1.1zM167.74 285.12h1.1v1.1h-1.1zM169.49 278.58h1.1v1.1h-1.1zM154.22 287.38h1.1v1.1h-1.1zM171.44 275.41h1.1v1.1h-1.1zM160.32 283.21h1.1v1.1h-1.1zM162.27 282.09h1.1v1.1h-1.1zM161.74 287.31h1.1v1.1h-1.1zM156.97 285.95h1.1v1.1h-1.1zM170.69 282.72h1.1v1.1h-1.1zM177.01 278.74h1.1v1.1h-1.1zM174.72 283.91h1.1v1.1h-1.1zM164.8 281.63h1.1v1.1h-1.1zM174.02 289.26h1.1v1.1h-1.1zM174.66 282.74h1.1v1.1h-1.1zM166.27 288.55h1.1v1.1h-1.1zM170.21 279.19h1.1v1.1h-1.1zM169.14 275.22h1.1v1.1h-1.1zM168.03 281.01h1.1v1.1h-1.1zM159.15 290.44h1.1v1.1h-1.1zM160.35 281.97h1.1v1.1h-1.1zM167.27 287.17h1.1v1.1h-1.1zM156.42 285.93h1.1v1.1h-1.1zM164.2 277.24h1.1v1.1h-1.1zM161.67 290.96h1.1v1.1h-1.1zM168.35 287.97h1.1v1.1h-1.1zM166.75 280.4h1.1v1.1h-1.1zM170.73 283.08h1.1v1.1h-1.1zM175.6 278.92h1.1v1.1h-1.1zM167.22 287.59h1.1v1.1h-1.1zM164.86 280.39h1.1v1.1h-1.1zM168.96 282.12h1.1v1.1h-1.1zM160.53 282.75h1.1v1.1h-1.1zM162.49 285.4h1.1v1.1h-1.1zM176.39 280.61h1.1v1.1h-1.1zM164.05 286.18h1.1v1.1h-1.1zM166.5 289.77h1.1v1.1h-1.1zM166.67 283.84h1.1v1.1h-1.1zM165.94 281.12h1.1v1.1h-1.1zM162.2 286.08h1.1v1.1h-1.1zM157.26 289.7h1.1v1.1h-1.1zM164.68 289.46h1.1v1.1h-1.1zM161.49 284.07h1.1v1.1h-1.1zM158.7 285.6h1.1v1.1h-1.1zM155.92 289.85h1.1v1.1h-1.1zM156.23 289.39h1.1v1.1h-1.1zM154.16 289.85h1.1v1.1h-1.1zM159.14 287.27h1.1v1.1h-1.1zM157.96 288.54h1.1v1.1h-1.1zM163.8 289.55h1.1v1.1h-1.1zM159.35 289.4h1.1v1.1h-1.1zM163.7 290.01h1.1v1.1h-1.1zM167.13 287.65h1.1v1.1h-1.1zM163.43 289.33h1.1v1.1h-1.1zM157.66 290.27h1.1v1.1h-1.1zM163.48 291.03h1.1v1.1h-1.1zM162.08 287.34h1.1v1.1h-1.1zM160.84 289.84h1.1v1.1h-1.1zM166.78 289.32h1.1v1.1h-1.1zM160.42 288.19h1.1v1.1h-1.1zM161.3 290.61h1.1v1.1h-1.1zM160.77 285.75h1.1v1.1h-1.1zM158.57 291.07h1.1v1.1h-1.1zM157.23 290.78h1.1v1.1h-1.1zM160.84 287.5h1.1v1.1h-1.1zM163.34 284.83h1.1v1.1h-1.1zM151.85 286h1.1v1.1h-1.1zM162.27 288.53h1.1v1.1h-1.1zM162.67 288.93h1.1v1.1h-1.1zM160.68 288.04h1.1v1.1h-1.1zM158.6 291.04h1.1v1.1h-1.1zM163.21 286.44h1.1v1.1h-1.1zM163.17 287.21h1.1v1.1h-1.1zM163.12 289.51h1.1v1.1h-1.1zM158.9 291.01h1.1v1.1h-1.1zM165.03 288.05h1.1v1.1h-1.1zM160.65 288.3h1.1v1.1h-1.1zM158.45 290.21h1.1v1.1h-1.1zM161.19 289.25h1.1v1.1h-1.1zM155.71 290.32h1.1v1.1h-1.1zM155.83 290.52h1.1v1.1h-1.1zM159.81 289.36h1.1v1.1h-1.1zM158.34 287.39h1.1v1.1h-1.1zM156.11 289.1h1.1v1.1h-1.1zM159.84 289.65h1.1v1.1h-1.1zM159.03 290.61h1.1v1.1h-1.1zM160.74 289.32h1.1v1.1h-1.1zM159.21 289.05h1.1v1.1h-1.1zM162.74 287.7h1.1v1.1h-1.1zM155.42 289.85h1.1v1.1h-1.1zM161.83 289.14h1.1v1.1h-1.1zM161.12 286.51h1.1v1.1h-1.1zM156.33 289.08h1.1v1.1h-1.1zM160.04 286.63h1.1v1.1h-1.1zM162 285.33h1.1v1.1h-1.1zM165.06 287.01h1.1v1.1h-1.1zM157.95 287.02h1.1v1.1h-1.1zM154.85 288.45h1.1v1.1h-1.1zM152.7 288.42h1.1v1.1h-1.1zM160.82 288.49h1.1v1.1h-1.1zM202.81 285.86h1.1v1.1h-1.1zM198.35 290.53h1.1v1.1h-1.1zM182.44 283.6h1.1v1.1h-1.1zM191.89 291.17h1.1v1.1h-1.1zM185.77 285.01h1.1v1.1h-1.1zM185.19 288.06h1.1v1.1h-1.1zM195.18 287.77h1.1v1.1h-1.1zM189.9 290.13h1.1v1.1h-1.1zM181.2 279.59h1.1v1.1h-1.1zM202.27 290.06h1.1v1.1h-1.1zM203.54 280.4h1.1v1.1h-1.1zM183.35 287.35h1.1v1.1h-1.1zM202.21 276.97h1.1v1.1h-1.1zM208.11 284.45h1.1v1.1h-1.1zM181.97 283.67h1.1v1.1h-1.1zM190.81 277.67h1.1v1.1h-1.1zM206.67 290.95h1.1v1.1h-1.1zM184.6 283.13h1.1v1.1h-1.1zM188.93 286.76h1.1v1.1h-1.1zM184.18 281.34h1.1v1.1h-1.1zM192.9 283.56h1.1v1.1h-1.1zM193.62 285.54h1.1v1.1h-1.1zM208.27 290.9h1.1v1.1h-1.1zM207.31 289.26h1.1v1.1h-1.1zM187.62 279.91h1.1v1.1h-1.1zM194.33 286.29h1.1v1.1h-1.1zM198.58 281.59h1.1v1.1h-1.1zM209.76 281h1.1v1.1h-1.1zM181.56 277.45h1.1v1.1h-1.1zM187.07 287.69h1.1v1.1h-1.1zM205.38 276.67h1.1v1.1h-1.1zM187.87 279.88h1.1v1.1h-1.1zM203.39 272.81h1.1v1.1h-1.1zM199.84 268.68h1.1v1.1h-1.1zM200.05 268.66h1.1v1.1h-1.1zM198.76 270.06h1.1v1.1h-1.1zM202.84 269.96h1.1v1.1h-1.1zM195.98 266.17h1.1v1.1h-1.1zM199.9 268.99h1.1v1.1h-1.1zM204.71 270.49h1.1v1.1h-1.1zM202.25 270.07h1.1v1.1h-1.1zM205.18 271.58h1.1v1.1h-1.1zM200.02 269.06h1.1v1.1h-1.1zM200.03 269.57h1.1v1.1h-1.1z" fill="#262626"/>
<rect x="150.2" y="233.8" width="76.4" height="59" fill="none" stroke="#111" stroke-width="1.3"/>
<line x1="146.1" y1="292.8" x2="149.9" y2="292.8" stroke="#111" stroke-width="1.15"/>
<line x1="147" y1="288.36" x2="149.9" y2="288.36" stroke="#111" stroke-width="1.15"/>
<line x1="147" y1="285.76" x2="149.9" y2="285.76" stroke="#111" stroke-width="1.15"/>
<line x1="147" y1="283.92" x2="149.9" y2="283.92" stroke="#111" stroke-width="1.15"/>
<line x1="147" y1="282.49" x2="149.9" y2="282.49" stroke="#111" stroke-width="1.15"/>
<line x1="147" y1="281.32" x2="149.9" y2="281.32" stroke="#111" stroke-width="1.15"/>
<line x1="147" y1="280.33" x2="149.9" y2="280.33" stroke="#111" stroke-width="1.15"/>
<line x1="147" y1="279.48" x2="149.9" y2="279.48" stroke="#111" stroke-width="1.15"/>
<line x1="147" y1="278.72" x2="149.9" y2="278.72" stroke="#111" stroke-width="1.15"/>
<line x1="146.1" y1="278.05" x2="149.9" y2="278.05" stroke="#111" stroke-width="1.15"/>
<line x1="147" y1="273.61" x2="149.9" y2="273.61" stroke="#111" stroke-width="1.15"/>
<line x1="147" y1="271.01" x2="149.9" y2="271.01" stroke="#111" stroke-width="1.15"/>
<line x1="147" y1="269.17" x2="149.9" y2="269.17" stroke="#111" stroke-width="1.15"/>
<line x1="147" y1="267.74" x2="149.9" y2="267.74" stroke="#111" stroke-width="1.15"/>
<line x1="147" y1="266.57" x2="149.9" y2="266.57" stroke="#111" stroke-width="1.15"/>
<line x1="147" y1="265.58" x2="149.9" y2="265.58" stroke="#111" stroke-width="1.15"/>
<line x1="147" y1="264.73" x2="149.9" y2="264.73" stroke="#111" stroke-width="1.15"/>
<line x1="147" y1="263.97" x2="149.9" y2="263.97" stroke="#111" stroke-width="1.15"/>
<line x1="146.1" y1="263.3" x2="149.9" y2="263.3" stroke="#111" stroke-width="1.15"/>
<line x1="147" y1="258.86" x2="149.9" y2="258.86" stroke="#111" stroke-width="1.15"/>
<line x1="147" y1="256.26" x2="149.9" y2="256.26" stroke="#111" stroke-width="1.15"/>
<line x1="147" y1="254.42" x2="149.9" y2="254.42" stroke="#111" stroke-width="1.15"/>
<line x1="147" y1="252.99" x2="149.9" y2="252.99" stroke="#111" stroke-width="1.15"/>
<line x1="147" y1="251.82" x2="149.9" y2="251.82" stroke="#111" stroke-width="1.15"/>
<line x1="147" y1="250.83" x2="149.9" y2="250.83" stroke="#111" stroke-width="1.15"/>
<line x1="147" y1="249.98" x2="149.9" y2="249.98" stroke="#111" stroke-width="1.15"/>
<line x1="147" y1="249.22" x2="149.9" y2="249.22" stroke="#111" stroke-width="1.15"/>
<line x1="146.1" y1="248.55" x2="149.9" y2="248.55" stroke="#111" stroke-width="1.15"/>
<line x1="147" y1="244.11" x2="149.9" y2="244.11" stroke="#111" stroke-width="1.15"/>
<line x1="147" y1="241.51" x2="149.9" y2="241.51" stroke="#111" stroke-width="1.15"/>
<line x1="147" y1="239.67" x2="149.9" y2="239.67" stroke="#111" stroke-width="1.15"/>
<line x1="147" y1="238.24" x2="149.9" y2="238.24" stroke="#111" stroke-width="1.15"/>
<line x1="147" y1="237.07" x2="149.9" y2="237.07" stroke="#111" stroke-width="1.15"/>
<line x1="147" y1="236.08" x2="149.9" y2="236.08" stroke="#111" stroke-width="1.15"/>
<line x1="147" y1="235.23" x2="149.9" y2="235.23" stroke="#111" stroke-width="1.15"/>
<line x1="147" y1="234.47" x2="149.9" y2="234.47" stroke="#111" stroke-width="1.15"/>
<line x1="146.1" y1="233.8" x2="149.9" y2="233.8" stroke="#111" stroke-width="1.15"/>
<line x1="150.2" y1="293.1" x2="150.2" y2="297.3" stroke="#111" stroke-width="1.15"/>
<line x1="155.95" y1="293.1" x2="155.95" y2="295.9" stroke="#111" stroke-width="1.15"/>
<line x1="159.31" y1="293.1" x2="159.31" y2="295.9" stroke="#111" stroke-width="1.15"/>
<line x1="161.7" y1="293.1" x2="161.7" y2="295.9" stroke="#111" stroke-width="1.15"/>
<line x1="163.55" y1="293.1" x2="163.55" y2="295.9" stroke="#111" stroke-width="1.15"/>
<line x1="165.06" y1="293.1" x2="165.06" y2="295.9" stroke="#111" stroke-width="1.15"/>
<line x1="166.34" y1="293.1" x2="166.34" y2="295.9" stroke="#111" stroke-width="1.15"/>
<line x1="167.45" y1="293.1" x2="167.45" y2="295.9" stroke="#111" stroke-width="1.15"/>
<line x1="168.43" y1="293.1" x2="168.43" y2="295.9" stroke="#111" stroke-width="1.15"/>
<line x1="169.3" y1="293.1" x2="169.3" y2="297.3" stroke="#111" stroke-width="1.15"/>
<line x1="175.05" y1="293.1" x2="175.05" y2="295.9" stroke="#111" stroke-width="1.15"/>
<line x1="178.41" y1="293.1" x2="178.41" y2="295.9" stroke="#111" stroke-width="1.15"/>
<line x1="180.8" y1="293.1" x2="180.8" y2="295.9" stroke="#111" stroke-width="1.15"/>
<line x1="182.65" y1="293.1" x2="182.65" y2="295.9" stroke="#111" stroke-width="1.15"/>
<line x1="184.16" y1="293.1" x2="184.16" y2="295.9" stroke="#111" stroke-width="1.15"/>
<line x1="185.44" y1="293.1" x2="185.44" y2="295.9" stroke="#111" stroke-width="1.15"/>
<line x1="186.55" y1="293.1" x2="186.55" y2="295.9" stroke="#111" stroke-width="1.15"/>
<line x1="187.53" y1="293.1" x2="187.53" y2="295.9" stroke="#111" stroke-width="1.15"/>
<line x1="188.4" y1="293.1" x2="188.4" y2="297.3" stroke="#111" stroke-width="1.15"/>
<line x1="194.15" y1="293.1" x2="194.15" y2="295.9" stroke="#111" stroke-width="1.15"/>
<line x1="197.51" y1="293.1" x2="197.51" y2="295.9" stroke="#111" stroke-width="1.15"/>
<line x1="199.9" y1="293.1" x2="199.9" y2="295.9" stroke="#111" stroke-width="1.15"/>
<line x1="201.75" y1="293.1" x2="201.75" y2="295.9" stroke="#111" stroke-width="1.15"/>
<line x1="203.26" y1="293.1" x2="203.26" y2="295.9" stroke="#111" stroke-width="1.15"/>
<line x1="204.54" y1="293.1" x2="204.54" y2="295.9" stroke="#111" stroke-width="1.15"/>
<line x1="205.65" y1="293.1" x2="205.65" y2="295.9" stroke="#111" stroke-width="1.15"/>
<line x1="206.63" y1="293.1" x2="206.63" y2="295.9" stroke="#111" stroke-width="1.15"/>
<line x1="207.5" y1="293.1" x2="207.5" y2="297.3" stroke="#111" stroke-width="1.15"/>
<line x1="213.25" y1="293.1" x2="213.25" y2="295.9" stroke="#111" stroke-width="1.15"/>
<line x1="216.61" y1="293.1" x2="216.61" y2="295.9" stroke="#111" stroke-width="1.15"/>
<line x1="219" y1="293.1" x2="219" y2="295.9" stroke="#111" stroke-width="1.15"/>
<line x1="220.85" y1="293.1" x2="220.85" y2="295.9" stroke="#111" stroke-width="1.15"/>
<line x1="222.36" y1="293.1" x2="222.36" y2="295.9" stroke="#111" stroke-width="1.15"/>
<line x1="223.64" y1="293.1" x2="223.64" y2="295.9" stroke="#111" stroke-width="1.15"/>
<line x1="224.75" y1="293.1" x2="224.75" y2="295.9" stroke="#111" stroke-width="1.15"/>
<line x1="225.73" y1="293.1" x2="225.73" y2="295.9" stroke="#111" stroke-width="1.15"/>
<line x1="226.6" y1="293.1" x2="226.6" y2="297.3" stroke="#111" stroke-width="1.15"/>
<line x1="180" y1="233.8" x2="180" y2="292.8" stroke="#111" stroke-width="1.4" stroke-dasharray="3.6,2.2"/>
<line x1="146.7" y1="273.2" x2="226.6" y2="273.2" stroke="#111" stroke-width="1.4" stroke-dasharray="3.6,2.2"/>
<line x1="156.5" y1="235.8" x2="156.5" y2="260.3" stroke="#111" stroke-width="1.1"/>
<line x1="146.7" y1="249" x2="175.9" y2="249" stroke="#111" stroke-width="1.1"/>
<text x="158.98" y="247.8" font-family='"Liberation Serif", serif' font-size="9.2" font-weight="bold" fill="#111" textLength="11.5" lengthAdjust="spacingAndGlyphs" stroke="#111" stroke-width="0.2">3.4</text>
<text x="159.12" y="259.3" font-family='"Liberation Serif", serif' font-size="9.2" font-weight="bold" fill="#111" textLength="11.5" lengthAdjust="spacingAndGlyphs" stroke="#111" stroke-width="0.2">6.5</text>
<text x="141" y="241.84" font-family='"Liberation Sans", sans-serif' font-size="9.2" font-weight="normal" fill="#111" textLength="13.04" lengthAdjust="spacingAndGlyphs" stroke="#111" stroke-width="0.3" transform="rotate(-90 141 241.84)">10<tspan font-size="6.9" dy="-4.14">4</tspan></text>
<text x="141" y="297.81" font-family='"Liberation Sans", sans-serif' font-size="9.2" font-weight="normal" fill="#111" textLength="14.47" lengthAdjust="spacingAndGlyphs" stroke="#111" stroke-width="0.3" transform="rotate(-90 141 297.81)">10<tspan font-size="6.9" dy="-4.14">0</tspan></text>
<text x="145.19" y="306.8" font-family='"Liberation Sans", sans-serif' font-size="9.2" font-weight="normal" fill="#111" textLength="12.54" lengthAdjust="spacingAndGlyphs" stroke="#111" stroke-width="0.3">10<tspan font-size="6.9" dy="-4.14">0</tspan></text>
<text x="218.31" y="306.8" font-family='"Liberation Sans", sans-serif' font-size="9.2" font-weight="normal" fill="#111" textLength="14.11" lengthAdjust="spacingAndGlyphs" stroke="#111" stroke-width="0.3">10<tspan font-size="6.9" dy="-4.14">4</tspan></text>
<text x="42.51" y="325.1" font-family='"Liberation Serif", serif' font-size="8.6" font-weight="bold" fill="#111" textLength="69.16" lengthAdjust="spacingAndGlyphs" stroke="#111" stroke-width="0.2">Anti-RLIP76 48h</text>
<path d="M62.52 382.81h1.1v1.1h-1.1zM55.64 382.33h1.1v1.1h-1.1zM56.34 382.56h1.1v1.1h-1.1zM52.39 381.98h1.1v1.1h-1.1zM52.43 385.29h1.1v1.1h-1.1zM55.1 379.55h1.1v1.1h-1.1zM59.36 378.34h1.1v1.1h-1.1zM50.5 383.47h1.1v1.1h-1.1zM60.89 384.42h1.1v1.1h-1.1zM65.86 387.7h1.1v1.1h-1.1zM60.86 382.19h1.1v1.1h-1.1zM59.89 378.44h1.1v1.1h-1.1zM64.67 385.84h1.1v1.1h-1.1zM60.55 379.68h1.1v1.1h-1.1zM66.25 387.57h1.1v1.1h-1.1zM62.49 380.46h1.1v1.1h-1.1zM64.57 384.58h1.1v1.1h-1.1zM60.48 388.29h1.1v1.1h-1.1zM59.74 384.24h1.1v1.1h-1.1zM53.6 385.25h1.1v1.1h-1.1zM60.89 382.01h1.1v1.1h-1.1zM52.7 384.71h1.1v1.1h-1.1zM47.53 387.09h1.1v1.1h-1.1zM54.09 386.54h1.1v1.1h-1.1zM48.27 385.34h1.1v1.1h-1.1zM60.21 379.01h1.1v1.1h-1.1zM62.97 382.19h1.1v1.1h-1.1zM64.22 384.53h1.1v1.1h-1.1zM57.11 378.12h1.1v1.1h-1.1zM59.82 377.12h1.1v1.1h-1.1zM55.59 385.46h1.1v1.1h-1.1zM65.43 378.27h1.1v1.1h-1.1zM67.22 377.2h1.1v1.1h-1.1zM48.06 388.05h1.1v1.1h-1.1zM69.28 386.24h1.1v1.1h-1.1zM58.49 378.74h1.1v1.1h-1.1zM47.45 387.67h1.1v1.1h-1.1zM63.75 373.35h1.1v1.1h-1.1zM61.89 380.75h1.1v1.1h-1.1zM60.49 374.83h1.1v1.1h-1.1zM64.33 373.1h1.1v1.1h-1.1zM59.53 380.18h1.1v1.1h-1.1zM58.86 388.12h1.1v1.1h-1.1zM65.91 387.34h1.1v1.1h-1.1zM57.93 383.98h1.1v1.1h-1.1zM68.15 385.27h1.1v1.1h-1.1zM69.46 381.85h1.1v1.1h-1.1zM64.84 384.4h1.1v1.1h-1.1zM66.83 387.44h1.1v1.1h-1.1zM67.55 385.27h1.1v1.1h-1.1zM58.19 385.98h1.1v1.1h-1.1zM64.24 371.68h1.1v1.1h-1.1zM62.04 388.35h1.1v1.1h-1.1zM62.95 382.51h1.1v1.1h-1.1zM59.82 376.48h1.1v1.1h-1.1zM54.86 385.41h1.1v1.1h-1.1zM67.05 381.73h1.1v1.1h-1.1zM67.39 386.3h1.1v1.1h-1.1zM61.24 387.6h1.1v1.1h-1.1zM57.29 378.23h1.1v1.1h-1.1zM69.18 385.2h1.1v1.1h-1.1zM56.06 386.41h1.1v1.1h-1.1zM70.2 384.98h1.1v1.1h-1.1zM47.21 388.08h1.1v1.1h-1.1zM63.92 387.84h1.1v1.1h-1.1zM51.51 384.04h1.1v1.1h-1.1zM63.64 373.21h1.1v1.1h-1.1zM55.42 387.98h1.1v1.1h-1.1zM58.17 385.73h1.1v1.1h-1.1zM68.45 382.4h1.1v1.1h-1.1zM64.86 387.72h1.1v1.1h-1.1zM63.98 385.95h1.1v1.1h-1.1zM69.03 386.22h1.1v1.1h-1.1zM58.97 382.22h1.1v1.1h-1.1zM66.57 380.93h1.1v1.1h-1.1zM68.75 385.36h1.1v1.1h-1.1zM59.57 380.59h1.1v1.1h-1.1zM63.61 379.26h1.1v1.1h-1.1zM60.95 376.66h1.1v1.1h-1.1zM70.81 388.3h1.1v1.1h-1.1zM50.14 387.3h1.1v1.1h-1.1zM64.07 376.07h1.1v1.1h-1.1zM62.15 374.86h1.1v1.1h-1.1zM45.91 387.16h1.1v1.1h-1.1zM63.19 374.63h1.1v1.1h-1.1zM66.34 379.81h1.1v1.1h-1.1zM60.57 377.61h1.1v1.1h-1.1zM50.05 387.03h1.1v1.1h-1.1zM63.03 382.9h1.1v1.1h-1.1zM52.79 386.29h1.1v1.1h-1.1zM53.8 383.88h1.1v1.1h-1.1zM58.12 380.41h1.1v1.1h-1.1zM62.94 373.45h1.1v1.1h-1.1zM56.76 385.96h1.1v1.1h-1.1zM60.28 387.87h1.1v1.1h-1.1zM51.71 386.34h1.1v1.1h-1.1zM66.07 375h1.1v1.1h-1.1zM61.65 379.76h1.1v1.1h-1.1zM59.04 376.36h1.1v1.1h-1.1zM63.01 387.03h1.1v1.1h-1.1zM49.28 385h1.1v1.1h-1.1zM48.2 388.09h1.1v1.1h-1.1zM64.72 378.09h1.1v1.1h-1.1zM59.79 376.98h1.1v1.1h-1.1zM55.3 380.36h1.1v1.1h-1.1zM59.9 378.97h1.1v1.1h-1.1zM55.12 380.96h1.1v1.1h-1.1zM54.59 381.78h1.1v1.1h-1.1zM54.2 384.68h1.1v1.1h-1.1zM59.33 379.46h1.1v1.1h-1.1zM58.79 381.54h1.1v1.1h-1.1zM58.43 386.81h1.1v1.1h-1.1zM58.14 388.34h1.1v1.1h-1.1zM48.34 388.03h1.1v1.1h-1.1zM58.77 386.96h1.1v1.1h-1.1zM56.76 382.28h1.1v1.1h-1.1zM56.82 381.24h1.1v1.1h-1.1zM53.87 384.39h1.1v1.1h-1.1zM56.94 381.82h1.1v1.1h-1.1zM61.7 382.7h1.1v1.1h-1.1zM48.84 385.8h1.1v1.1h-1.1zM63.48 386.62h1.1v1.1h-1.1zM53.69 381.94h1.1v1.1h-1.1zM68.76 381.93h1.1v1.1h-1.1zM62.53 374.82h1.1v1.1h-1.1zM61.62 374.56h1.1v1.1h-1.1zM65.48 373.84h1.1v1.1h-1.1zM56.14 378.84h1.1v1.1h-1.1zM63.91 378.13h1.1v1.1h-1.1zM51.21 384.82h1.1v1.1h-1.1zM64.75 378.28h1.1v1.1h-1.1zM69.6 385.05h1.1v1.1h-1.1zM68.13 387.08h1.1v1.1h-1.1zM55.03 387.5h1.1v1.1h-1.1zM66.13 384.74h1.1v1.1h-1.1zM69.24 383.76h1.1v1.1h-1.1zM66.63 385.02h1.1v1.1h-1.1zM63.09 375.13h1.1v1.1h-1.1zM63.87 375.54h1.1v1.1h-1.1zM59.18 382.78h1.1v1.1h-1.1zM48.79 386.33h1.1v1.1h-1.1zM56.32 388.3h1.1v1.1h-1.1zM63.52 381.77h1.1v1.1h-1.1zM61.06 382.48h1.1v1.1h-1.1zM65.53 384.93h1.1v1.1h-1.1zM56.73 386.98h1.1v1.1h-1.1zM69.56 385.34h1.1v1.1h-1.1zM51.9 382.71h1.1v1.1h-1.1zM63.35 386.66h1.1v1.1h-1.1zM67.19 380.58h1.1v1.1h-1.1zM64.66 381.23h1.1v1.1h-1.1zM62.39 381.32h1.1v1.1h-1.1zM64.77 385.13h1.1v1.1h-1.1zM56.38 381.37h1.1v1.1h-1.1zM64.44 378.87h1.1v1.1h-1.1zM68.54 381.1h1.1v1.1h-1.1zM65.71 374.9h1.1v1.1h-1.1zM50.57 385.28h1.1v1.1h-1.1zM55.83 385.74h1.1v1.1h-1.1zM50.56 388.02h1.1v1.1h-1.1zM62.49 386.32h1.1v1.1h-1.1zM62.52 382.1h1.1v1.1h-1.1zM65.69 379.89h1.1v1.1h-1.1zM67.88 384.03h1.1v1.1h-1.1zM65.93 383.74h1.1v1.1h-1.1zM65.59 375.93h1.1v1.1h-1.1zM64.44 381.15h1.1v1.1h-1.1zM65.61 376.34h1.1v1.1h-1.1zM63.69 381.5h1.1v1.1h-1.1zM57.14 384.31h1.1v1.1h-1.1zM54.64 380.17h1.1v1.1h-1.1zM51.47 382.49h1.1v1.1h-1.1zM56.45 387.89h1.1v1.1h-1.1zM56.53 378.56h1.1v1.1h-1.1zM59.9 382.39h1.1v1.1h-1.1zM61.92 379.07h1.1v1.1h-1.1zM59.45 382.17h1.1v1.1h-1.1zM63.91 381.14h1.1v1.1h-1.1zM62.67 381.36h1.1v1.1h-1.1zM60.57 377.01h1.1v1.1h-1.1zM64.48 378.92h1.1v1.1h-1.1zM55.32 379.9h1.1v1.1h-1.1zM59.24 380.04h1.1v1.1h-1.1zM57.38 386.44h1.1v1.1h-1.1zM64.45 374.28h1.1v1.1h-1.1zM68.11 386.35h1.1v1.1h-1.1zM64.56 373.61h1.1v1.1h-1.1zM64.68 371.42h1.1v1.1h-1.1zM57.88 379.3h1.1v1.1h-1.1zM65.75 379.51h1.1v1.1h-1.1zM55.74 382.92h1.1v1.1h-1.1zM62.63 387.09h1.1v1.1h-1.1zM58.28 379.53h1.1v1.1h-1.1zM68.69 381.23h1.1v1.1h-1.1zM58.04 382.09h1.1v1.1h-1.1zM66.93 384.48h1.1v1.1h-1.1zM59.49 387.05h1.1v1.1h-1.1zM58.65 377.51h1.1v1.1h-1.1zM63.96 384.17h1.1v1.1h-1.1zM52.88 385.21h1.1v1.1h-1.1zM65.41 381.69h1.1v1.1h-1.1zM66.99 384.5h1.1v1.1h-1.1zM65.98 379.76h1.1v1.1h-1.1zM53.43 385.88h1.1v1.1h-1.1zM56.67 380.96h1.1v1.1h-1.1zM60.77 388.32h1.1v1.1h-1.1zM54 384.35h1.1v1.1h-1.1zM56.31 383.53h1.1v1.1h-1.1zM55.63 379.72h1.1v1.1h-1.1zM54.88 380.48h1.1v1.1h-1.1zM68.84 379.96h1.1v1.1h-1.1zM62.64 382.13h1.1v1.1h-1.1zM62.67 379.08h1.1v1.1h-1.1zM64.06 382.46h1.1v1.1h-1.1zM51.37 382.23h1.1v1.1h-1.1zM63.98 382.3h1.1v1.1h-1.1zM62.65 382.11h1.1v1.1h-1.1zM58.69 386.26h1.1v1.1h-1.1zM68.09 380.87h1.1v1.1h-1.1zM65.09 377.77h1.1v1.1h-1.1zM67.32 378.81h1.1v1.1h-1.1zM61.3 385.85h1.1v1.1h-1.1zM58.61 382.25h1.1v1.1h-1.1zM66.1 379.89h1.1v1.1h-1.1zM62.79 386.43h1.1v1.1h-1.1zM62.36 378.99h1.1v1.1h-1.1zM59.13 381.08h1.1v1.1h-1.1zM61.17 384.57h1.1v1.1h-1.1zM53.38 381.79h1.1v1.1h-1.1zM62.08 388.05h1.1v1.1h-1.1zM53.85 378.57h1.1v1.1h-1.1zM65.5 381.9h1.1v1.1h-1.1zM66.51 381.9h1.1v1.1h-1.1zM57.88 381.85h1.1v1.1h-1.1zM67.2 384.93h1.1v1.1h-1.1zM62.06 382.64h1.1v1.1h-1.1zM66.4 384.52h1.1v1.1h-1.1zM62.3 384.95h1.1v1.1h-1.1zM61.58 377.68h1.1v1.1h-1.1zM65.54 386.82h1.1v1.1h-1.1zM67.97 381.82h1.1v1.1h-1.1zM55.15 383.68h1.1v1.1h-1.1zM58.21 374.7h1.1v1.1h-1.1zM61.84 379.05h1.1v1.1h-1.1zM61.44 380.16h1.1v1.1h-1.1zM65.12 385.44h1.1v1.1h-1.1zM63.56 386.71h1.1v1.1h-1.1zM52.6 384.99h1.1v1.1h-1.1zM66.16 380.51h1.1v1.1h-1.1zM61.68 377.37h1.1v1.1h-1.1zM58.92 383.22h1.1v1.1h-1.1zM54.87 374.42h1.1v1.1h-1.1zM59.34 378.77h1.1v1.1h-1.1zM56.36 381.41h1.1v1.1h-1.1zM54.32 386.35h1.1v1.1h-1.1zM66.73 382.19h1.1v1.1h-1.1zM58.19 381.83h1.1v1.1h-1.1zM60.57 378.96h1.1v1.1h-1.1zM57.9 383.72h1.1v1.1h-1.1zM56.66 379.56h1.1v1.1h-1.1zM94.76 380.02h1.1v1.1h-1.1zM98.81 382.09h1.1v1.1h-1.1zM75.09 381.12h1.1v1.1h-1.1zM79.28 377.92h1.1v1.1h-1.1zM105.74 380.92h1.1v1.1h-1.1zM96.98 375.57h1.1v1.1h-1.1zM92.63 374.95h1.1v1.1h-1.1zM78.32 375.1h1.1v1.1h-1.1zM73.34 387.97h1.1v1.1h-1.1zM106.46 379.07h1.1v1.1h-1.1zM73.15 385.11h1.1v1.1h-1.1zM93.93 373.75h1.1v1.1h-1.1zM98.11 374.11h1.1v1.1h-1.1zM78.67 385.85h1.1v1.1h-1.1zM98.13 376.86h1.1v1.1h-1.1zM88.02 386.21h1.1v1.1h-1.1zM91.62 381.67h1.1v1.1h-1.1zM77.24 374.12h1.1v1.1h-1.1zM77.33 381.65h1.1v1.1h-1.1zM91.33 380.59h1.1v1.1h-1.1zM92.88 382.31h1.1v1.1h-1.1zM93.25 379.78h1.1v1.1h-1.1zM101.23 381.77h1.1v1.1h-1.1zM100.64 385.74h1.1v1.1h-1.1zM95.01 382.11h1.1v1.1h-1.1zM79.11 374.69h1.1v1.1h-1.1zM93.86 377.1h1.1v1.1h-1.1zM91.96 382.06h1.1v1.1h-1.1zM91.76 380.08h1.1v1.1h-1.1zM78.86 378.01h1.1v1.1h-1.1zM95.28 387.61h1.1v1.1h-1.1zM81.38 378.18h1.1v1.1h-1.1zM85.82 380.08h1.1v1.1h-1.1zM92.74 385.47h1.1v1.1h-1.1zM98.15 386.35h1.1v1.1h-1.1zM85.85 380.37h1.1v1.1h-1.1zM93.48 378.18h1.1v1.1h-1.1zM100.7 379.89h1.1v1.1h-1.1zM89.84 381.58h1.1v1.1h-1.1zM82.9 373.17h1.1v1.1h-1.1zM80.07 380.86h1.1v1.1h-1.1zM105.88 375.26h1.1v1.1h-1.1zM99.11 377.61h1.1v1.1h-1.1zM73.25 387.53h1.1v1.1h-1.1zM74.22 377.92h1.1v1.1h-1.1zM105.34 384.12h1.1v1.1h-1.1zM100.47 386.76h1.1v1.1h-1.1zM77.05 381.32h1.1v1.1h-1.1zM74.83 379.25h1.1v1.1h-1.1zM87.56 386.48h1.1v1.1h-1.1zM80.42 384h1.1v1.1h-1.1zM76.02 377.23h1.1v1.1h-1.1zM74.01 382.58h1.1v1.1h-1.1zM90.95 384.76h1.1v1.1h-1.1zM96.31 382.38h1.1v1.1h-1.1zM102.56 375.97h1.1v1.1h-1.1zM80.52 382.1h1.1v1.1h-1.1zM94.58 373.77h1.1v1.1h-1.1zM105.58 380.71h1.1v1.1h-1.1zM77.84 385.58h1.1v1.1h-1.1zM92.57 387.1h1.1v1.1h-1.1zM89.63 377.22h1.1v1.1h-1.1zM86.64 380.69h1.1v1.1h-1.1zM82.49 382.58h1.1v1.1h-1.1zM76.25 377.18h1.1v1.1h-1.1zM75.43 373.45h1.1v1.1h-1.1zM88.65 385.17h1.1v1.1h-1.1zM84.22 387.89h1.1v1.1h-1.1zM91.81 383.86h1.1v1.1h-1.1zM80.33 387.83h1.1v1.1h-1.1zM82.35 386.94h1.1v1.1h-1.1zM94.73 375.94h1.1v1.1h-1.1zM96.68 375.57h1.1v1.1h-1.1zM83.63 379.25h1.1v1.1h-1.1zM81.91 378.97h1.1v1.1h-1.1zM76.56 379.6h1.1v1.1h-1.1zM74.81 386.13h1.1v1.1h-1.1zM82.55 384.75h1.1v1.1h-1.1zM102.81 384.64h1.1v1.1h-1.1zM101.19 388.07h1.1v1.1h-1.1zM104.98 379.82h1.1v1.1h-1.1zM91.21 374.14h1.1v1.1h-1.1zM82.91 378.41h1.1v1.1h-1.1zM92.34 373.12h1.1v1.1h-1.1zM97.6 374.23h1.1v1.1h-1.1zM84.93 381h1.1v1.1h-1.1zM101.23 383.43h1.1v1.1h-1.1zM76.2 384h1.1v1.1h-1.1zM78.73 383.18h1.1v1.1h-1.1zM85.87 377.48h1.1v1.1h-1.1zM82.37 377.01h1.1v1.1h-1.1zM89.02 384.06h1.1v1.1h-1.1zM105.42 374.32h1.1v1.1h-1.1zM81.73 384.93h1.1v1.1h-1.1zM87.54 384.4h1.1v1.1h-1.1zM94.39 374.52h1.1v1.1h-1.1zM73.83 375.93h1.1v1.1h-1.1zM80.9 376.01h1.1v1.1h-1.1zM80.35 374.89h1.1v1.1h-1.1zM73.37 381.65h1.1v1.1h-1.1zM97.75 375.63h1.1v1.1h-1.1zM74.83 385.02h1.1v1.1h-1.1zM74.48 375.31h1.1v1.1h-1.1zM87.37 377.9h1.1v1.1h-1.1zM98.86 381.35h1.1v1.1h-1.1zM88.58 379.17h1.1v1.1h-1.1zM73.4 386.54h1.1v1.1h-1.1zM83.77 386.65h1.1v1.1h-1.1zM75.12 380.13h1.1v1.1h-1.1zM89.19 375.55h1.1v1.1h-1.1zM89.37 385.09h1.1v1.1h-1.1zM91.53 380.88h1.1v1.1h-1.1zM76.87 383.59h1.1v1.1h-1.1zM85.65 384.2h1.1v1.1h-1.1zM73.67 377.85h1.1v1.1h-1.1zM75.29 385.59h1.1v1.1h-1.1zM86.95 377.72h1.1v1.1h-1.1zM98.72 381.59h1.1v1.1h-1.1zM80.46 379.48h1.1v1.1h-1.1zM73.01 374h1.1v1.1h-1.1zM102.76 381.98h1.1v1.1h-1.1zM105.44 381.9h1.1v1.1h-1.1zM94.67 374.73h1.1v1.1h-1.1zM85.41 383.08h1.1v1.1h-1.1zM84.45 383.77h1.1v1.1h-1.1zM82.2 383.8h1.1v1.1h-1.1zM77.92 381.08h1.1v1.1h-1.1zM85.12 381.68h1.1v1.1h-1.1zM73.93 377h1.1v1.1h-1.1zM96.04 375.74h1.1v1.1h-1.1zM91.86 385.11h1.1v1.1h-1.1zM83.7 379.53h1.1v1.1h-1.1zM97.63 373.42h1.1v1.1h-1.1zM86.58 377.48h1.1v1.1h-1.1zM89.83 385.09h1.1v1.1h-1.1zM102.03 381.36h1.1v1.1h-1.1zM95.08 374.31h1.1v1.1h-1.1zM93.81 388.34h1.1v1.1h-1.1zM92.08 381.09h1.1v1.1h-1.1zM88.12 379.79h1.1v1.1h-1.1zM77.08 376.26h1.1v1.1h-1.1zM99.26 381.51h1.1v1.1h-1.1zM73.6 383.15h1.1v1.1h-1.1zM100.75 383.74h1.1v1.1h-1.1zM77.16 381.39h1.1v1.1h-1.1zM86.26 375.74h1.1v1.1h-1.1zM79.71 376.07h1.1v1.1h-1.1zM76.75 373.68h1.1v1.1h-1.1zM93.25 384h1.1v1.1h-1.1zM84.95 380.53h1.1v1.1h-1.1zM104.85 383.71h1.1v1.1h-1.1zM86.47 385.33h1.1v1.1h-1.1zM97.04 378.08h1.1v1.1h-1.1zM74.25 385.08h1.1v1.1h-1.1zM97.34 382.91h1.1v1.1h-1.1zM75.4 385.28h1.1v1.1h-1.1zM76.97 386.16h1.1v1.1h-1.1zM92.33 383.5h1.1v1.1h-1.1zM74.37 379.02h1.1v1.1h-1.1zM96.73 374.83h1.1v1.1h-1.1zM73.6 379.82h1.1v1.1h-1.1zM101.68 383.39h1.1v1.1h-1.1zM78.57 374.35h1.1v1.1h-1.1zM101.02 386.9h1.1v1.1h-1.1zM95.46 376.41h1.1v1.1h-1.1zM97.46 373.16h1.1v1.1h-1.1zM76.89 378.28h1.1v1.1h-1.1zM106.12 373.59h1.1v1.1h-1.1zM76.56 385.11h1.1v1.1h-1.1zM97.93 377.42h1.1v1.1h-1.1zM74.4 387.09h1.1v1.1h-1.1zM106.71 387.99h1.1v1.1h-1.1zM90.18 374.4h1.1v1.1h-1.1zM97.03 383.71h1.1v1.1h-1.1zM100.79 385.53h1.1v1.1h-1.1zM86.32 380.36h1.1v1.1h-1.1zM92.93 386.01h1.1v1.1h-1.1zM79.86 387.79h1.1v1.1h-1.1zM102.76 378.71h1.1v1.1h-1.1zM73.41 382.92h1.1v1.1h-1.1zM89.89 384.95h1.1v1.1h-1.1zM97.81 375.78h1.1v1.1h-1.1zM94.09 380.23h1.1v1.1h-1.1zM78.16 377.53h1.1v1.1h-1.1zM82.85 385.12h1.1v1.1h-1.1zM89.66 378.29h1.1v1.1h-1.1zM73.94 385.99h1.1v1.1h-1.1zM97.58 386.8h1.1v1.1h-1.1zM98.91 374.04h1.1v1.1h-1.1zM80.17 380.63h1.1v1.1h-1.1zM80.67 386.59h1.1v1.1h-1.1zM77.82 373.24h1.1v1.1h-1.1zM85.94 373.83h1.1v1.1h-1.1zM73.41 383h1.1v1.1h-1.1zM91.65 381.95h1.1v1.1h-1.1zM74.27 382.25h1.1v1.1h-1.1zM88.56 378.02h1.1v1.1h-1.1zM78.37 375.57h1.1v1.1h-1.1zM87.1 379.05h1.1v1.1h-1.1zM90.92 384.12h1.1v1.1h-1.1zM80.01 383.02h1.1v1.1h-1.1zM79.45 385.3h1.1v1.1h-1.1zM77.8 382.81h1.1v1.1h-1.1zM96.87 386.19h1.1v1.1h-1.1zM88.86 388.05h1.1v1.1h-1.1zM107.4 386.08h1.1v1.1h-1.1zM82.72 377.4h1.1v1.1h-1.1zM92.51 375.12h1.1v1.1h-1.1zM77.02 374.56h1.1v1.1h-1.1zM93.46 379.39h1.1v1.1h-1.1zM104.6 386.31h1.1v1.1h-1.1zM88.89 378.62h1.1v1.1h-1.1zM81.44 373.86h1.1v1.1h-1.1zM75.24 387.39h1.1v1.1h-1.1zM80.71 373.14h1.1v1.1h-1.1zM107.13 379.27h1.1v1.1h-1.1zM98.44 380.48h1.1v1.1h-1.1zM106.62 374.33h1.1v1.1h-1.1zM86.74 383.68h1.1v1.1h-1.1zM73.34 388.14h1.1v1.1h-1.1zM82.03 384.18h1.1v1.1h-1.1zM78.9 355.22h1.1v1.1h-1.1zM79.08 366.23h1.1v1.1h-1.1zM99.61 368.2h1.1v1.1h-1.1zM89.74 355.42h1.1v1.1h-1.1zM95.65 361.86h1.1v1.1h-1.1zM95.78 363.83h1.1v1.1h-1.1zM90.59 356.65h1.1v1.1h-1.1zM80.43 355.27h1.1v1.1h-1.1zM87.37 358.48h1.1v1.1h-1.1zM99.9 354.76h1.1v1.1h-1.1zM95.22 355.86h1.1v1.1h-1.1zM79.48 368.3h1.1v1.1h-1.1zM82.27 363.22h1.1v1.1h-1.1zM91.04 360.19h1.1v1.1h-1.1zM85.4 356.18h1.1v1.1h-1.1zM93.7 359.77h1.1v1.1h-1.1zM91.42 366.69h1.1v1.1h-1.1zM78.82 360.56h1.1v1.1h-1.1zM85.47 368.45h1.1v1.1h-1.1zM91.9 357.05h1.1v1.1h-1.1zM88 354.23h1.1v1.1h-1.1zM89.34 355.08h1.1v1.1h-1.1zM80.31 361.88h1.1v1.1h-1.1zM89.91 357.3h1.1v1.1h-1.1zM91 358.83h1.1v1.1h-1.1zM93.86 354.81h1.1v1.1h-1.1zM97.19 360.96h1.1v1.1h-1.1zM81.15 358.51h1.1v1.1h-1.1zM92.07 355.47h1.1v1.1h-1.1zM98.9 357.43h1.1v1.1h-1.1zM70 364h1.1v1.1h-1.1z" fill="#1e1e1e"/>
<rect x="40.3" y="330.8" width="76" height="59" fill="none" stroke="#111" stroke-width="1.3"/>
<line x1="36.2" y1="389.8" x2="40" y2="389.8" stroke="#111" stroke-width="1.15"/>
<line x1="37.1" y1="385.36" x2="40" y2="385.36" stroke="#111" stroke-width="1.15"/>
<line x1="37.1" y1="382.76" x2="40" y2="382.76" stroke="#111" stroke-width="1.15"/>
<line x1="37.1" y1="380.92" x2="40" y2="380.92" stroke="#111" stroke-width="1.15"/>
<line x1="37.1" y1="379.49" x2="40" y2="379.49" stroke="#111" stroke-width="1.15"/>
<line x1="37.1" y1="378.32" x2="40" y2="378.32" stroke="#111" stroke-width="1.15"/>
<line x1="37.1" y1="377.33" x2="40" y2="377.33" stroke="#111" stroke-width="1.15"/>
<line x1="37.1" y1="376.48" x2="40" y2="376.48" stroke="#111" stroke-width="1.15"/>
<line x1="37.1" y1="375.72" x2="40" y2="375.72" stroke="#111" stroke-width="1.15"/>
<line x1="36.2" y1="375.05" x2="40" y2="375.05" stroke="#111" stroke-width="1.15"/>
<line x1="37.1" y1="370.61" x2="40" y2="370.61" stroke="#111" stroke-width="1.15"/>
<line x1="37.1" y1="368.01" x2="40" y2="368.01" stroke="#111" stroke-width="1.15"/>
<line x1="37.1" y1="366.17" x2="40" y2="366.17" stroke="#111" stroke-width="1.15"/>
<line x1="37.1" y1="364.74" x2="40" y2="364.74" stroke="#111" stroke-width="1.15"/>
<line x1="37.1" y1="363.57" x2="40" y2="363.57" stroke="#111" stroke-width="1.15"/>
<line x1="37.1" y1="362.58" x2="40" y2="362.58" stroke="#111" stroke-width="1.15"/>
<line x1="37.1" y1="361.73" x2="40" y2="361.73" stroke="#111" stroke-width="1.15"/>
<line x1="37.1" y1="360.97" x2="40" y2="360.97" stroke="#111" stroke-width="1.15"/>
<line x1="36.2" y1="360.3" x2="40" y2="360.3" stroke="#111" stroke-width="1.15"/>
<line x1="37.1" y1="355.86" x2="40" y2="355.86" stroke="#111" stroke-width="1.15"/>
<line x1="37.1" y1="353.26" x2="40" y2="353.26" stroke="#111" stroke-width="1.15"/>
<line x1="37.1" y1="351.42" x2="40" y2="351.42" stroke="#111" stroke-width="1.15"/>
<line x1="37.1" y1="349.99" x2="40" y2="349.99" stroke="#111" stroke-width="1.15"/>
<line x1="37.1" y1="348.82" x2="40" y2="348.82" stroke="#111" stroke-width="1.15"/>
<line x1="37.1" y1="347.83" x2="40" y2="347.83" stroke="#111" stroke-width="1.15"/>
<line x1="37.1" y1="346.98" x2="40" y2="346.98" stroke="#111" stroke-width="1.15"/>
<line x1="37.1" y1="346.22" x2="40" y2="346.22" stroke="#111" stroke-width="1.15"/>
<line x1="36.2" y1="345.55" x2="40" y2="345.55" stroke="#111" stroke-width="1.15"/>
<line x1="37.1" y1="341.11" x2="40" y2="341.11" stroke="#111" stroke-width="1.15"/>
<line x1="37.1" y1="338.51" x2="40" y2="338.51" stroke="#111" stroke-width="1.15"/>
<line x1="37.1" y1="336.67" x2="40" y2="336.67" stroke="#111" stroke-width="1.15"/>
<line x1="37.1" y1="335.24" x2="40" y2="335.24" stroke="#111" stroke-width="1.15"/>
<line x1="37.1" y1="334.07" x2="40" y2="334.07" stroke="#111" stroke-width="1.15"/>
<line x1="37.1" y1="333.08" x2="40" y2="333.08" stroke="#111" stroke-width="1.15"/>
<line x1="37.1" y1="332.23" x2="40" y2="332.23" stroke="#111" stroke-width="1.15"/>
<line x1="37.1" y1="331.47" x2="40" y2="331.47" stroke="#111" stroke-width="1.15"/>
<line x1="36.2" y1="330.8" x2="40" y2="330.8" stroke="#111" stroke-width="1.15"/>
<line x1="40.3" y1="390.1" x2="40.3" y2="394.3" stroke="#111" stroke-width="1.15"/>
<line x1="46.02" y1="390.1" x2="46.02" y2="392.9" stroke="#111" stroke-width="1.15"/>
<line x1="49.37" y1="390.1" x2="49.37" y2="392.9" stroke="#111" stroke-width="1.15"/>
<line x1="51.74" y1="390.1" x2="51.74" y2="392.9" stroke="#111" stroke-width="1.15"/>
<line x1="53.58" y1="390.1" x2="53.58" y2="392.9" stroke="#111" stroke-width="1.15"/>
<line x1="55.08" y1="390.1" x2="55.08" y2="392.9" stroke="#111" stroke-width="1.15"/>
<line x1="56.36" y1="390.1" x2="56.36" y2="392.9" stroke="#111" stroke-width="1.15"/>
<line x1="57.46" y1="390.1" x2="57.46" y2="392.9" stroke="#111" stroke-width="1.15"/>
<line x1="58.43" y1="390.1" x2="58.43" y2="392.9" stroke="#111" stroke-width="1.15"/>
<line x1="59.3" y1="390.1" x2="59.3" y2="394.3" stroke="#111" stroke-width="1.15"/>
<line x1="65.02" y1="390.1" x2="65.02" y2="392.9" stroke="#111" stroke-width="1.15"/>
<line x1="68.37" y1="390.1" x2="68.37" y2="392.9" stroke="#111" stroke-width="1.15"/>
<line x1="70.74" y1="390.1" x2="70.74" y2="392.9" stroke="#111" stroke-width="1.15"/>
<line x1="72.58" y1="390.1" x2="72.58" y2="392.9" stroke="#111" stroke-width="1.15"/>
<line x1="74.08" y1="390.1" x2="74.08" y2="392.9" stroke="#111" stroke-width="1.15"/>
<line x1="75.36" y1="390.1" x2="75.36" y2="392.9" stroke="#111" stroke-width="1.15"/>
<line x1="76.46" y1="390.1" x2="76.46" y2="392.9" stroke="#111" stroke-width="1.15"/>
<line x1="77.43" y1="390.1" x2="77.43" y2="392.9" stroke="#111" stroke-width="1.15"/>
<line x1="78.3" y1="390.1" x2="78.3" y2="394.3" stroke="#111" stroke-width="1.15"/>
<line x1="84.02" y1="390.1" x2="84.02" y2="392.9" stroke="#111" stroke-width="1.15"/>
<line x1="87.37" y1="390.1" x2="87.37" y2="392.9" stroke="#111" stroke-width="1.15"/>
<line x1="89.74" y1="390.1" x2="89.74" y2="392.9" stroke="#111" stroke-width="1.15"/>
<line x1="91.58" y1="390.1" x2="91.58" y2="392.9" stroke="#111" stroke-width="1.15"/>
<line x1="93.08" y1="390.1" x2="93.08" y2="392.9" stroke="#111" stroke-width="1.15"/>
<line x1="94.36" y1="390.1" x2="94.36" y2="392.9" stroke="#111" stroke-width="1.15"/>
<line x1="95.46" y1="390.1" x2="95.46" y2="392.9" stroke="#111" stroke-width="1.15"/>
<line x1="96.43" y1="390.1" x2="96.43" y2="392.9" stroke="#111" stroke-width="1.15"/>
<line x1="97.3" y1="390.1" x2="97.3" y2="394.3" stroke="#111" stroke-width="1.15"/>
<line x1="103.02" y1="390.1" x2="103.02" y2="392.9" stroke="#111" stroke-width="1.15"/>
<line x1="106.37" y1="390.1" x2="106.37" y2="392.9" stroke="#111" stroke-width="1.15"/>
<line x1="108.74" y1="390.1" x2="108.74" y2="392.9" stroke="#111" stroke-width="1.15"/>
<line x1="110.58" y1="390.1" x2="110.58" y2="392.9" stroke="#111" stroke-width="1.15"/>
<line x1="112.08" y1="390.1" x2="112.08" y2="392.9" stroke="#111" stroke-width="1.15"/>
<line x1="113.36" y1="390.1" x2="113.36" y2="392.9" stroke="#111" stroke-width="1.15"/>
<line x1="114.46" y1="390.1" x2="114.46" y2="392.9" stroke="#111" stroke-width="1.15"/>
<line x1="115.43" y1="390.1" x2="115.43" y2="392.9" stroke="#111" stroke-width="1.15"/>
<line x1="116.3" y1="390.1" x2="116.3" y2="394.3" stroke="#111" stroke-width="1.15"/>
<line x1="72.8" y1="330.8" x2="72.8" y2="389.8" stroke="#111" stroke-width="1.4" stroke-dasharray="3.6,2.2"/>
<line x1="36.8" y1="370.9" x2="116.3" y2="370.9" stroke="#111" stroke-width="1.4" stroke-dasharray="3.6,2.2"/>
<line x1="47" y1="332.8" x2="47" y2="359.1" stroke="#111" stroke-width="1.1"/>
<line x1="36.8" y1="346.6" x2="68.3" y2="346.6" stroke="#111" stroke-width="1.1"/>
<text x="54.28" y="345.4" font-family='"Liberation Serif", serif' font-size="9.2" font-weight="bold" fill="#111" textLength="11.5" lengthAdjust="spacingAndGlyphs" stroke="#111" stroke-width="0.2">7.4</text>
<text x="49.82" y="356.9" font-family='"Liberation Serif", serif' font-size="9.2" font-weight="bold" fill="#111" textLength="16.1" lengthAdjust="spacingAndGlyphs" stroke="#111" stroke-width="0.2">15.9</text>
<text x="31.1" y="338.84" font-family='"Liberation Sans", sans-serif' font-size="9.2" font-weight="normal" fill="#111" textLength="13.04" lengthAdjust="spacingAndGlyphs" stroke="#111" stroke-width="0.3" transform="rotate(-90 31.1 338.84)">10<tspan font-size="6.9" dy="-4.14">4</tspan></text>
<text x="31.1" y="394.81" font-family='"Liberation Sans", sans-serif' font-size="9.2" font-weight="normal" fill="#111" textLength="14.47" lengthAdjust="spacingAndGlyphs" stroke="#111" stroke-width="0.3" transform="rotate(-90 31.1 394.81)">10<tspan font-size="6.9" dy="-4.14">0</tspan></text>
<text x="35.29" y="403.8" font-family='"Liberation Sans", sans-serif' font-size="9.2" font-weight="normal" fill="#111" textLength="12.54" lengthAdjust="spacingAndGlyphs" stroke="#111" stroke-width="0.3">10<tspan font-size="6.9" dy="-4.14">0</tspan></text>
<text x="108.01" y="403.8" font-family='"Liberation Sans", sans-serif' font-size="9.2" font-weight="normal" fill="#111" textLength="14.11" lengthAdjust="spacingAndGlyphs" stroke="#111" stroke-width="0.3">10<tspan font-size="6.9" dy="-4.14">4</tspan></text>
<text x="167.97" y="311" font-family='"Liberation Serif", serif' font-size="8.9" font-weight="bold" fill="#111" textLength="19.98" lengthAdjust="spacingAndGlyphs" stroke="#111" stroke-width="0.2">H<tspan font-size="6.23" dy="2.67">2</tspan><tspan dy="-2.67">O</tspan><tspan font-size="6.23" dy="2.67">2</tspan></text>
<text x="190.28" y="311" font-family='"Liberation Serif", serif' font-size="8.9" font-weight="bold" fill="#111" textLength="24.68" lengthAdjust="spacingAndGlyphs" stroke="#111" stroke-width="0.2">30min</text>
<text x="189.02" y="319.8" font-family='"Liberation Serif", serif' font-size="9" font-weight="bold" fill="#111" textLength="4.36" lengthAdjust="spacingAndGlyphs" stroke="#111" stroke-width="0.35">+</text>
<text x="155.31" y="326.4" font-family='"Liberation Serif", serif' font-size="8.9" font-weight="bold" fill="#111" textLength="68.35" lengthAdjust="spacingAndGlyphs" stroke="#111" stroke-width="0.2">Anti-RLIP76 48h</text>
<path d="M161.48 376.55h1.1v1.1h-1.1zM156.48 378.78h1.1v1.1h-1.1zM165.17 385.71h1.1v1.1h-1.1zM155.71 379.53h1.1v1.1h-1.1zM166.84 379.88h1.1v1.1h-1.1zM154.17 386.4h1.1v1.1h-1.1zM175.34 387.76h1.1v1.1h-1.1zM174.89 379.41h1.1v1.1h-1.1zM159.04 385.19h1.1v1.1h-1.1zM167.19 385.53h1.1v1.1h-1.1zM165.35 379.78h1.1v1.1h-1.1zM157.49 376.84h1.1v1.1h-1.1zM154.48 384.94h1.1v1.1h-1.1zM154.84 388.59h1.1v1.1h-1.1zM178.52 378.17h1.1v1.1h-1.1zM178.77 385.5h1.1v1.1h-1.1zM154.02 382.18h1.1v1.1h-1.1zM160.25 381.03h1.1v1.1h-1.1zM154.59 379.95h1.1v1.1h-1.1zM154.09 383.13h1.1v1.1h-1.1zM163.35 379.75h1.1v1.1h-1.1zM163.84 387.71h1.1v1.1h-1.1zM160.06 387.12h1.1v1.1h-1.1zM172.29 381.7h1.1v1.1h-1.1zM171.07 381.69h1.1v1.1h-1.1zM156.23 382.7h1.1v1.1h-1.1zM155.24 386.69h1.1v1.1h-1.1zM157.77 383.82h1.1v1.1h-1.1zM173.32 385.17h1.1v1.1h-1.1zM176.74 386.78h1.1v1.1h-1.1zM169.55 386.97h1.1v1.1h-1.1zM166.56 385.97h1.1v1.1h-1.1zM165.26 384.31h1.1v1.1h-1.1zM177.89 380.89h1.1v1.1h-1.1zM156.54 383.86h1.1v1.1h-1.1zM159.08 386.64h1.1v1.1h-1.1zM167.8 374.21h1.1v1.1h-1.1zM156.9 385.44h1.1v1.1h-1.1zM161.11 386.21h1.1v1.1h-1.1zM163.02 377.44h1.1v1.1h-1.1zM154.92 385.4h1.1v1.1h-1.1zM167.12 385.35h1.1v1.1h-1.1zM164 383.94h1.1v1.1h-1.1zM179.61 388.54h1.1v1.1h-1.1zM162.1 387.84h1.1v1.1h-1.1zM168.76 387.75h1.1v1.1h-1.1zM179.92 376.52h1.1v1.1h-1.1zM156.97 379.76h1.1v1.1h-1.1zM157.25 383.65h1.1v1.1h-1.1zM176.07 386.74h1.1v1.1h-1.1zM177.27 376.99h1.1v1.1h-1.1zM178.76 380.75h1.1v1.1h-1.1zM167.15 387.12h1.1v1.1h-1.1zM158.68 380.99h1.1v1.1h-1.1zM176.62 387.58h1.1v1.1h-1.1zM179.15 377.05h1.1v1.1h-1.1zM167.51 386.95h1.1v1.1h-1.1zM178.43 386.78h1.1v1.1h-1.1zM158.38 377.21h1.1v1.1h-1.1zM156.23 380.21h1.1v1.1h-1.1zM165.85 381.25h1.1v1.1h-1.1zM155.8 376.89h1.1v1.1h-1.1zM169.33 387.86h1.1v1.1h-1.1zM155.39 384.04h1.1v1.1h-1.1zM179.28 381.84h1.1v1.1h-1.1zM164.82 387.81h1.1v1.1h-1.1zM154.14 388.55h1.1v1.1h-1.1zM172.18 386.91h1.1v1.1h-1.1zM159.81 383.73h1.1v1.1h-1.1zM177.86 376.27h1.1v1.1h-1.1zM154.79 385.71h1.1v1.1h-1.1zM178.29 378.22h1.1v1.1h-1.1zM156.51 383.29h1.1v1.1h-1.1zM172.66 384.71h1.1v1.1h-1.1zM168.53 376.02h1.1v1.1h-1.1zM156.72 385h1.1v1.1h-1.1zM170.56 377h1.1v1.1h-1.1zM154.9 381.12h1.1v1.1h-1.1zM161.58 381.42h1.1v1.1h-1.1zM156.18 376.59h1.1v1.1h-1.1zM155.44 385.4h1.1v1.1h-1.1zM160.34 388.24h1.1v1.1h-1.1zM166.67 385.37h1.1v1.1h-1.1zM155.61 382.97h1.1v1.1h-1.1zM154.83 384.67h1.1v1.1h-1.1zM157.2 386.45h1.1v1.1h-1.1zM160.11 374.53h1.1v1.1h-1.1zM176.02 377.76h1.1v1.1h-1.1zM158.13 384.13h1.1v1.1h-1.1zM154.47 387.35h1.1v1.1h-1.1zM170.3 377.57h1.1v1.1h-1.1zM167.34 377.81h1.1v1.1h-1.1zM164.7 377.04h1.1v1.1h-1.1zM158.42 383.15h1.1v1.1h-1.1zM165.1 385.88h1.1v1.1h-1.1zM177.38 381.44h1.1v1.1h-1.1zM159.98 379.35h1.1v1.1h-1.1zM170.98 381.94h1.1v1.1h-1.1zM156.96 379.04h1.1v1.1h-1.1zM161.73 388.12h1.1v1.1h-1.1zM162.19 387.85h1.1v1.1h-1.1zM163.07 384.95h1.1v1.1h-1.1zM157.85 382.56h1.1v1.1h-1.1zM170.56 376.83h1.1v1.1h-1.1zM162.61 380.11h1.1v1.1h-1.1zM158.61 381.49h1.1v1.1h-1.1zM156.7 384.88h1.1v1.1h-1.1zM154.29 379.86h1.1v1.1h-1.1zM158.02 378.84h1.1v1.1h-1.1zM174.18 386.3h1.1v1.1h-1.1zM176.01 377.89h1.1v1.1h-1.1zM164.65 387.41h1.1v1.1h-1.1zM153.54 384.7h1.1v1.1h-1.1zM168.02 379.87h1.1v1.1h-1.1zM164.17 385.08h1.1v1.1h-1.1zM160.26 387.72h1.1v1.1h-1.1zM167.64 385.11h1.1v1.1h-1.1zM164.08 387.55h1.1v1.1h-1.1zM167.09 387.1h1.1v1.1h-1.1zM163.69 387.22h1.1v1.1h-1.1zM170.91 384.84h1.1v1.1h-1.1zM162.6 382.2h1.1v1.1h-1.1zM175.83 383.9h1.1v1.1h-1.1zM160.64 383.38h1.1v1.1h-1.1zM168.98 386.13h1.1v1.1h-1.1zM172.21 384.94h1.1v1.1h-1.1zM161.94 384.46h1.1v1.1h-1.1zM165.32 380.27h1.1v1.1h-1.1zM162.43 384.45h1.1v1.1h-1.1zM166.88 384.02h1.1v1.1h-1.1zM163.84 381.3h1.1v1.1h-1.1zM156.9 385.27h1.1v1.1h-1.1zM171.28 382.21h1.1v1.1h-1.1zM165.1 387.48h1.1v1.1h-1.1zM162.33 385.84h1.1v1.1h-1.1zM162.73 385.11h1.1v1.1h-1.1zM172.05 383.92h1.1v1.1h-1.1zM161.23 385.14h1.1v1.1h-1.1zM162.4 386.29h1.1v1.1h-1.1zM157.11 386.74h1.1v1.1h-1.1zM166.41 387.08h1.1v1.1h-1.1zM155.25 383.27h1.1v1.1h-1.1zM172.76 388.18h1.1v1.1h-1.1zM160.04 384.48h1.1v1.1h-1.1zM167.11 379.29h1.1v1.1h-1.1zM167.53 384.28h1.1v1.1h-1.1zM165.01 380.37h1.1v1.1h-1.1zM158.48 383.79h1.1v1.1h-1.1zM165.46 377.92h1.1v1.1h-1.1zM168.91 386.62h1.1v1.1h-1.1zM206.9 376.2h1.1v1.1h-1.1zM181.54 387.69h1.1v1.1h-1.1zM209.95 384.62h1.1v1.1h-1.1zM192.32 379.95h1.1v1.1h-1.1zM211.24 374.09h1.1v1.1h-1.1zM207.59 384.52h1.1v1.1h-1.1zM203.92 387.52h1.1v1.1h-1.1zM187.27 379.44h1.1v1.1h-1.1zM190.82 380.97h1.1v1.1h-1.1zM215.27 387h1.1v1.1h-1.1zM217.98 384.97h1.1v1.1h-1.1zM208.17 374.05h1.1v1.1h-1.1zM195.16 380.82h1.1v1.1h-1.1zM184.19 387.83h1.1v1.1h-1.1zM193.83 376.64h1.1v1.1h-1.1zM183.42 381.63h1.1v1.1h-1.1zM204.03 379.81h1.1v1.1h-1.1zM185.98 373.33h1.1v1.1h-1.1zM206.19 382.9h1.1v1.1h-1.1zM198.53 381.11h1.1v1.1h-1.1zM195.27 387.91h1.1v1.1h-1.1zM182.58 376.43h1.1v1.1h-1.1zM210.49 377.86h1.1v1.1h-1.1zM192.29 379.85h1.1v1.1h-1.1zM190.96 385.41h1.1v1.1h-1.1zM183.88 381.94h1.1v1.1h-1.1zM207.25 378.34h1.1v1.1h-1.1zM207.86 378.53h1.1v1.1h-1.1zM203.57 374.24h1.1v1.1h-1.1zM191.76 382.03h1.1v1.1h-1.1zM203.12 380.38h1.1v1.1h-1.1zM182.02 381.67h1.1v1.1h-1.1zM213.41 377.12h1.1v1.1h-1.1zM187.76 383.06h1.1v1.1h-1.1zM188.62 374.23h1.1v1.1h-1.1zM183.18 383.12h1.1v1.1h-1.1zM214.09 385.61h1.1v1.1h-1.1zM202.26 387.37h1.1v1.1h-1.1zM212.71 377.06h1.1v1.1h-1.1zM216.6 383.39h1.1v1.1h-1.1zM203.86 378.32h1.1v1.1h-1.1zM183.71 378.1h1.1v1.1h-1.1zM188.58 383.24h1.1v1.1h-1.1zM204.88 383.21h1.1v1.1h-1.1zM215.3 372.51h1.1v1.1h-1.1zM187.68 374.2h1.1v1.1h-1.1zM193.72 388.03h1.1v1.1h-1.1zM197.47 386.09h1.1v1.1h-1.1zM186.87 378.53h1.1v1.1h-1.1zM210.68 377.48h1.1v1.1h-1.1zM207.89 382.69h1.1v1.1h-1.1zM204.88 372.99h1.1v1.1h-1.1zM193.93 377.24h1.1v1.1h-1.1zM218.97 382.53h1.1v1.1h-1.1zM206.52 380.72h1.1v1.1h-1.1zM203.59 379.13h1.1v1.1h-1.1zM190.18 377.45h1.1v1.1h-1.1zM188.45 384.3h1.1v1.1h-1.1zM183.61 374.49h1.1v1.1h-1.1zM209.97 383.87h1.1v1.1h-1.1zM208.35 376.01h1.1v1.1h-1.1zM199.13 372.8h1.1v1.1h-1.1zM199.51 373.05h1.1v1.1h-1.1zM184.54 374.55h1.1v1.1h-1.1zM192.81 380.58h1.1v1.1h-1.1zM188.12 373.82h1.1v1.1h-1.1zM218.37 388.03h1.1v1.1h-1.1zM185.25 375.93h1.1v1.1h-1.1zM213.97 372.76h1.1v1.1h-1.1zM185.67 383.53h1.1v1.1h-1.1zM217.51 388.23h1.1v1.1h-1.1zM212.55 377.9h1.1v1.1h-1.1zM208.03 388.42h1.1v1.1h-1.1zM209.19 385.87h1.1v1.1h-1.1zM206.75 379.69h1.1v1.1h-1.1zM201.6 388.3h1.1v1.1h-1.1zM201.55 372.93h1.1v1.1h-1.1zM196.69 387.31h1.1v1.1h-1.1zM207.03 380.7h1.1v1.1h-1.1zM216.26 385.36h1.1v1.1h-1.1zM188.34 384.42h1.1v1.1h-1.1zM213.6 372.61h1.1v1.1h-1.1zM216.38 379.84h1.1v1.1h-1.1zM212.7 372.71h1.1v1.1h-1.1zM191.85 377.66h1.1v1.1h-1.1zM188.1 383.68h1.1v1.1h-1.1zM210.56 383.55h1.1v1.1h-1.1zM215.25 374.44h1.1v1.1h-1.1zM190.62 379.32h1.1v1.1h-1.1zM210.44 385.05h1.1v1.1h-1.1zM218.62 387.33h1.1v1.1h-1.1zM199.91 385.07h1.1v1.1h-1.1zM211.48 381.34h1.1v1.1h-1.1zM205.83 387.01h1.1v1.1h-1.1zM212.03 375.17h1.1v1.1h-1.1zM181.8 384.52h1.1v1.1h-1.1zM211.38 375.72h1.1v1.1h-1.1zM212.82 385.37h1.1v1.1h-1.1zM186.21 375.13h1.1v1.1h-1.1zM204.97 383.09h1.1v1.1h-1.1zM186.06 387.93h1.1v1.1h-1.1zM188.02 386.67h1.1v1.1h-1.1zM216.73 374.55h1.1v1.1h-1.1zM206.7 381.85h1.1v1.1h-1.1zM215.47 380.05h1.1v1.1h-1.1zM195.33 376.46h1.1v1.1h-1.1zM212.64 377.94h1.1v1.1h-1.1zM215.3 373.09h1.1v1.1h-1.1zM214.37 372.82h1.1v1.1h-1.1zM191.91 382.55h1.1v1.1h-1.1zM195.4 373.61h1.1v1.1h-1.1zM212.33 380.89h1.1v1.1h-1.1zM210.8 373.11h1.1v1.1h-1.1zM186.17 376.41h1.1v1.1h-1.1zM211.4 372.9h1.1v1.1h-1.1zM181.58 378.92h1.1v1.1h-1.1zM194.36 386.89h1.1v1.1h-1.1zM213.14 376.58h1.1v1.1h-1.1zM208.37 378.57h1.1v1.1h-1.1zM209.35 383.71h1.1v1.1h-1.1zM183.05 380.49h1.1v1.1h-1.1zM195.77 380.31h1.1v1.1h-1.1zM200.9 384.24h1.1v1.1h-1.1zM194.95 381.33h1.1v1.1h-1.1zM211.85 384.07h1.1v1.1h-1.1zM187.23 374.84h1.1v1.1h-1.1zM194.38 387.45h1.1v1.1h-1.1zM217.53 384.38h1.1v1.1h-1.1zM193.69 385.17h1.1v1.1h-1.1zM198.78 383.32h1.1v1.1h-1.1zM206.05 383.21h1.1v1.1h-1.1zM186.7 382.16h1.1v1.1h-1.1zM195.95 384.06h1.1v1.1h-1.1zM209.68 376.01h1.1v1.1h-1.1zM193.72 376.86h1.1v1.1h-1.1zM217.39 380.84h1.1v1.1h-1.1zM210.02 387.1h1.1v1.1h-1.1zM198.85 374.65h1.1v1.1h-1.1zM193.81 373.93h1.1v1.1h-1.1zM194.87 380.17h1.1v1.1h-1.1zM200.01 375.32h1.1v1.1h-1.1zM186.72 384.06h1.1v1.1h-1.1zM199.35 379.46h1.1v1.1h-1.1zM198.48 379.47h1.1v1.1h-1.1zM205.77 382.58h1.1v1.1h-1.1zM182.36 380.93h1.1v1.1h-1.1zM189.27 382.4h1.1v1.1h-1.1zM197.29 385.43h1.1v1.1h-1.1zM217.52 385.11h1.1v1.1h-1.1zM203.37 381.13h1.1v1.1h-1.1zM184.46 384.92h1.1v1.1h-1.1zM187.36 378.95h1.1v1.1h-1.1zM202.03 377h1.1v1.1h-1.1zM213.32 381.79h1.1v1.1h-1.1zM217.86 372.88h1.1v1.1h-1.1zM197.34 377.99h1.1v1.1h-1.1zM201.67 383.52h1.1v1.1h-1.1zM202.3 388.48h1.1v1.1h-1.1zM196.43 378.8h1.1v1.1h-1.1zM208.68 381.92h1.1v1.1h-1.1zM189.96 388.17h1.1v1.1h-1.1zM188.39 373.77h1.1v1.1h-1.1zM200.22 387.98h1.1v1.1h-1.1zM212.97 386.38h1.1v1.1h-1.1zM203.09 381.19h1.1v1.1h-1.1zM190.76 375.3h1.1v1.1h-1.1zM196.52 386.66h1.1v1.1h-1.1zM210.73 381.74h1.1v1.1h-1.1zM202.31 379.6h1.1v1.1h-1.1zM215.13 386.66h1.1v1.1h-1.1zM186.71 387.83h1.1v1.1h-1.1zM205.75 378.62h1.1v1.1h-1.1zM208.48 379.66h1.1v1.1h-1.1zM206.42 381.08h1.1v1.1h-1.1zM203.89 388.16h1.1v1.1h-1.1zM214.45 380.66h1.1v1.1h-1.1zM194.38 384.65h1.1v1.1h-1.1zM205.35 374.12h1.1v1.1h-1.1zM199.1 377.25h1.1v1.1h-1.1zM204.58 375.34h1.1v1.1h-1.1zM191.03 376.78h1.1v1.1h-1.1zM190.38 382.12h1.1v1.1h-1.1zM213.32 383.4h1.1v1.1h-1.1zM204.52 385.45h1.1v1.1h-1.1zM194.52 379.78h1.1v1.1h-1.1zM204.71 376.01h1.1v1.1h-1.1zM202.27 370.04h1.1v1.1h-1.1zM203.61 374.45h1.1v1.1h-1.1zM205.69 374.21h1.1v1.1h-1.1zM207.69 377.22h1.1v1.1h-1.1zM199.85 376.14h1.1v1.1h-1.1zM196.21 373.29h1.1v1.1h-1.1zM195.01 374.4h1.1v1.1h-1.1zM194.27 372.45h1.1v1.1h-1.1zM200.29 371.62h1.1v1.1h-1.1zM205.16 372.81h1.1v1.1h-1.1zM200.12 374.17h1.1v1.1h-1.1zM207.74 376.19h1.1v1.1h-1.1zM200.15 373.54h1.1v1.1h-1.1zM206.8 374.54h1.1v1.1h-1.1zM195.26 375.14h1.1v1.1h-1.1zM205.41 374.77h1.1v1.1h-1.1zM201.92 378.12h1.1v1.1h-1.1zM198.43 376.54h1.1v1.1h-1.1zM211.06 378.62h1.1v1.1h-1.1zM194.63 376.03h1.1v1.1h-1.1zM202.42 380.15h1.1v1.1h-1.1zM209.3 377.1h1.1v1.1h-1.1zM208.77 376.09h1.1v1.1h-1.1zM195.3 379.81h1.1v1.1h-1.1zM191.37 376.57h1.1v1.1h-1.1zM206.33 375.3h1.1v1.1h-1.1zM207.74 374.82h1.1v1.1h-1.1zM206.52 375.41h1.1v1.1h-1.1zM197.22 377.05h1.1v1.1h-1.1zM198.23 376.27h1.1v1.1h-1.1zM195.34 375.4h1.1v1.1h-1.1zM204.96 377.43h1.1v1.1h-1.1zM195.06 373.67h1.1v1.1h-1.1zM201.59 372.59h1.1v1.1h-1.1zM205.31 380.12h1.1v1.1h-1.1zM205.77 376.26h1.1v1.1h-1.1zM196.63 376.13h1.1v1.1h-1.1zM204.9 379.24h1.1v1.1h-1.1zM199.55 377.62h1.1v1.1h-1.1zM199.55 374.26h1.1v1.1h-1.1zM199.09 375.49h1.1v1.1h-1.1zM192.63 374.06h1.1v1.1h-1.1zM210.65 370.87h1.1v1.1h-1.1zM207.03 376.59h1.1v1.1h-1.1zM199.09 373.16h1.1v1.1h-1.1zM208.58 374.12h1.1v1.1h-1.1zM203.53 374.4h1.1v1.1h-1.1zM194.91 377.19h1.1v1.1h-1.1zM205.67 372.81h1.1v1.1h-1.1zM208.38 372.11h1.1v1.1h-1.1zM193.94 376.79h1.1v1.1h-1.1zM199.08 374.89h1.1v1.1h-1.1zM211.34 372.49h1.1v1.1h-1.1zM205.42 373.99h1.1v1.1h-1.1zM202.28 374.39h1.1v1.1h-1.1zM196.91 375h1.1v1.1h-1.1zM196.11 374.93h1.1v1.1h-1.1zM195.91 374.28h1.1v1.1h-1.1zM202.49 371.78h1.1v1.1h-1.1zM201.31 376.44h1.1v1.1h-1.1zM205.41 387.95h1.1v1.1h-1.1zM198.67 387.19h1.1v1.1h-1.1zM206.6 379.78h1.1v1.1h-1.1zM204.65 387.84h1.1v1.1h-1.1zM204.3 385.97h1.1v1.1h-1.1zM203.9 385.54h1.1v1.1h-1.1zM198.37 384.37h1.1v1.1h-1.1zM204.57 386.38h1.1v1.1h-1.1zM208.48 387.02h1.1v1.1h-1.1zM204.25 382.4h1.1v1.1h-1.1zM207.25 387.35h1.1v1.1h-1.1zM198.32 384.83h1.1v1.1h-1.1zM206.3 384.17h1.1v1.1h-1.1zM211.92 384.2h1.1v1.1h-1.1zM202.09 383.33h1.1v1.1h-1.1zM205.98 385.87h1.1v1.1h-1.1zM202.51 387.65h1.1v1.1h-1.1zM203.08 385.05h1.1v1.1h-1.1zM201.53 381.67h1.1v1.1h-1.1zM206.08 386.17h1.1v1.1h-1.1zM195.06 383.3h1.1v1.1h-1.1zM198.23 385.19h1.1v1.1h-1.1zM198.54 387.57h1.1v1.1h-1.1zM211.9 384.45h1.1v1.1h-1.1zM204.84 383.54h1.1v1.1h-1.1zM212.64 383.48h1.1v1.1h-1.1zM199.92 385.9h1.1v1.1h-1.1zM203.53 385.35h1.1v1.1h-1.1zM198.72 385.7h1.1v1.1h-1.1zM201.01 384.96h1.1v1.1h-1.1zM210.69 384.57h1.1v1.1h-1.1zM207.2 384.5h1.1v1.1h-1.1zM210.74 384.21h1.1v1.1h-1.1zM198.85 385.34h1.1v1.1h-1.1zM212.21 384.99h1.1v1.1h-1.1zM200.43 359h1.1v1.1h-1.1zM198.35 357.46h1.1v1.1h-1.1zM198.01 357.35h1.1v1.1h-1.1zM188.08 359.03h1.1v1.1h-1.1zM186.74 363.96h1.1v1.1h-1.1zM188.56 367.93h1.1v1.1h-1.1zM194.56 357.48h1.1v1.1h-1.1zM200.84 357.81h1.1v1.1h-1.1zM205.54 358.02h1.1v1.1h-1.1zM210.87 353.69h1.1v1.1h-1.1zM187.53 367.56h1.1v1.1h-1.1zM204.59 357.35h1.1v1.1h-1.1zM203.36 358.95h1.1v1.1h-1.1zM199.72 357.54h1.1v1.1h-1.1zM200.58 363.7h1.1v1.1h-1.1zM208.85 357.23h1.1v1.1h-1.1zM201.39 362.36h1.1v1.1h-1.1zM209.6 360.92h1.1v1.1h-1.1zM209.34 368.26h1.1v1.1h-1.1zM197.02 359.7h1.1v1.1h-1.1zM212.16 362.56h1.1v1.1h-1.1zM200.33 365.83h1.1v1.1h-1.1zM202.32 361.55h1.1v1.1h-1.1zM203.77 357.32h1.1v1.1h-1.1z" fill="#1e1e1e"/>
<rect x="152.2" y="331" width="76.3" height="59" fill="none" stroke="#111" stroke-width="1.3"/>
<line x1="148.1" y1="390" x2="151.9" y2="390" stroke="#111" stroke-width="1.15"/>
<line x1="149" y1="385.56" x2="151.9" y2="385.56" stroke="#111" stroke-width="1.15"/>
<line x1="149" y1="382.96" x2="151.9" y2="382.96" stroke="#111" stroke-width="1.15"/>
<line x1="149" y1="381.12" x2="151.9" y2="381.12" stroke="#111" stroke-width="1.15"/>
<line x1="149" y1="379.69" x2="151.9" y2="379.69" stroke="#111" stroke-width="1.15"/>
<line x1="149" y1="378.52" x2="151.9" y2="378.52" stroke="#111" stroke-width="1.15"/>
<line x1="149" y1="377.53" x2="151.9" y2="377.53" stroke="#111" stroke-width="1.15"/>
<line x1="149" y1="376.68" x2="151.9" y2="376.68" stroke="#111" stroke-width="1.15"/>
<line x1="149" y1="375.92" x2="151.9" y2="375.92" stroke="#111" stroke-width="1.15"/>
<line x1="148.1" y1="375.25" x2="151.9" y2="375.25" stroke="#111" stroke-width="1.15"/>
<line x1="149" y1="370.81" x2="151.9" y2="370.81" stroke="#111" stroke-width="1.15"/>
<line x1="149" y1="368.21" x2="151.9" y2="368.21" stroke="#111" stroke-width="1.15"/>
<line x1="149" y1="366.37" x2="151.9" y2="366.37" stroke="#111" stroke-width="1.15"/>
<line x1="149" y1="364.94" x2="151.9" y2="364.94" stroke="#111" stroke-width="1.15"/>
<line x1="149" y1="363.77" x2="151.9" y2="363.77" stroke="#111" stroke-width="1.15"/>
<line x1="149" y1="362.78" x2="151.9" y2="362.78" stroke="#111" stroke-width="1.15"/>
<line x1="149" y1="361.93" x2="151.9" y2="361.93" stroke="#111" stroke-width="1.15"/>
<line x1="149" y1="361.17" x2="151.9" y2="361.17" stroke="#111" stroke-width="1.15"/>
<line x1="148.1" y1="360.5" x2="151.9" y2="360.5" stroke="#111" stroke-width="1.15"/>
<line x1="149" y1="356.06" x2="151.9" y2="356.06" stroke="#111" stroke-width="1.15"/>
<line x1="149" y1="353.46" x2="151.9" y2="353.46" stroke="#111" stroke-width="1.15"/>
<line x1="149" y1="351.62" x2="151.9" y2="351.62" stroke="#111" stroke-width="1.15"/>
<line x1="149" y1="350.19" x2="151.9" y2="350.19" stroke="#111" stroke-width="1.15"/>
<line x1="149" y1="349.02" x2="151.9" y2="349.02" stroke="#111" stroke-width="1.15"/>
<line x1="149" y1="348.03" x2="151.9" y2="348.03" stroke="#111" stroke-width="1.15"/>
<line x1="149" y1="347.18" x2="151.9" y2="347.18" stroke="#111" stroke-width="1.15"/>
<line x1="149" y1="346.42" x2="151.9" y2="346.42" stroke="#111" stroke-width="1.15"/>
<line x1="148.1" y1="345.75" x2="151.9" y2="345.75" stroke="#111" stroke-width="1.15"/>
<line x1="149" y1="341.31" x2="151.9" y2="341.31" stroke="#111" stroke-width="1.15"/>
<line x1="149" y1="338.71" x2="151.9" y2="338.71" stroke="#111" stroke-width="1.15"/>
<line x1="149" y1="336.87" x2="151.9" y2="336.87" stroke="#111" stroke-width="1.15"/>
<line x1="149" y1="335.44" x2="151.9" y2="335.44" stroke="#111" stroke-width="1.15"/>
<line x1="149" y1="334.27" x2="151.9" y2="334.27" stroke="#111" stroke-width="1.15"/>
<line x1="149" y1="333.28" x2="151.9" y2="333.28" stroke="#111" stroke-width="1.15"/>
<line x1="149" y1="332.43" x2="151.9" y2="332.43" stroke="#111" stroke-width="1.15"/>
<line x1="149" y1="331.67" x2="151.9" y2="331.67" stroke="#111" stroke-width="1.15"/>
<line x1="148.1" y1="331" x2="151.9" y2="331" stroke="#111" stroke-width="1.15"/>
<line x1="152.2" y1="390.3" x2="152.2" y2="394.5" stroke="#111" stroke-width="1.15"/>
<line x1="157.94" y1="390.3" x2="157.94" y2="393.1" stroke="#111" stroke-width="1.15"/>
<line x1="161.3" y1="390.3" x2="161.3" y2="393.1" stroke="#111" stroke-width="1.15"/>
<line x1="163.68" y1="390.3" x2="163.68" y2="393.1" stroke="#111" stroke-width="1.15"/>
<line x1="165.53" y1="390.3" x2="165.53" y2="393.1" stroke="#111" stroke-width="1.15"/>
<line x1="167.04" y1="390.3" x2="167.04" y2="393.1" stroke="#111" stroke-width="1.15"/>
<line x1="168.32" y1="390.3" x2="168.32" y2="393.1" stroke="#111" stroke-width="1.15"/>
<line x1="169.43" y1="390.3" x2="169.43" y2="393.1" stroke="#111" stroke-width="1.15"/>
<line x1="170.4" y1="390.3" x2="170.4" y2="393.1" stroke="#111" stroke-width="1.15"/>
<line x1="171.27" y1="390.3" x2="171.27" y2="394.5" stroke="#111" stroke-width="1.15"/>
<line x1="177.02" y1="390.3" x2="177.02" y2="393.1" stroke="#111" stroke-width="1.15"/>
<line x1="180.38" y1="390.3" x2="180.38" y2="393.1" stroke="#111" stroke-width="1.15"/>
<line x1="182.76" y1="390.3" x2="182.76" y2="393.1" stroke="#111" stroke-width="1.15"/>
<line x1="184.61" y1="390.3" x2="184.61" y2="393.1" stroke="#111" stroke-width="1.15"/>
<line x1="186.12" y1="390.3" x2="186.12" y2="393.1" stroke="#111" stroke-width="1.15"/>
<line x1="187.4" y1="390.3" x2="187.4" y2="393.1" stroke="#111" stroke-width="1.15"/>
<line x1="188.5" y1="390.3" x2="188.5" y2="393.1" stroke="#111" stroke-width="1.15"/>
<line x1="189.48" y1="390.3" x2="189.48" y2="393.1" stroke="#111" stroke-width="1.15"/>
<line x1="190.35" y1="390.3" x2="190.35" y2="394.5" stroke="#111" stroke-width="1.15"/>
<line x1="196.09" y1="390.3" x2="196.09" y2="393.1" stroke="#111" stroke-width="1.15"/>
<line x1="199.45" y1="390.3" x2="199.45" y2="393.1" stroke="#111" stroke-width="1.15"/>
<line x1="201.83" y1="390.3" x2="201.83" y2="393.1" stroke="#111" stroke-width="1.15"/>
<line x1="203.68" y1="390.3" x2="203.68" y2="393.1" stroke="#111" stroke-width="1.15"/>
<line x1="205.19" y1="390.3" x2="205.19" y2="393.1" stroke="#111" stroke-width="1.15"/>
<line x1="206.47" y1="390.3" x2="206.47" y2="393.1" stroke="#111" stroke-width="1.15"/>
<line x1="207.58" y1="390.3" x2="207.58" y2="393.1" stroke="#111" stroke-width="1.15"/>
<line x1="208.55" y1="390.3" x2="208.55" y2="393.1" stroke="#111" stroke-width="1.15"/>
<line x1="209.43" y1="390.3" x2="209.43" y2="394.5" stroke="#111" stroke-width="1.15"/>
<line x1="215.17" y1="390.3" x2="215.17" y2="393.1" stroke="#111" stroke-width="1.15"/>
<line x1="218.53" y1="390.3" x2="218.53" y2="393.1" stroke="#111" stroke-width="1.15"/>
<line x1="220.91" y1="390.3" x2="220.91" y2="393.1" stroke="#111" stroke-width="1.15"/>
<line x1="222.76" y1="390.3" x2="222.76" y2="393.1" stroke="#111" stroke-width="1.15"/>
<line x1="224.27" y1="390.3" x2="224.27" y2="393.1" stroke="#111" stroke-width="1.15"/>
<line x1="225.55" y1="390.3" x2="225.55" y2="393.1" stroke="#111" stroke-width="1.15"/>
<line x1="226.65" y1="390.3" x2="226.65" y2="393.1" stroke="#111" stroke-width="1.15"/>
<line x1="227.63" y1="390.3" x2="227.63" y2="393.1" stroke="#111" stroke-width="1.15"/>
<line x1="228.5" y1="390.3" x2="228.5" y2="394.5" stroke="#111" stroke-width="1.15"/>
<line x1="180.8" y1="331" x2="180.8" y2="390" stroke="#111" stroke-width="1.4" stroke-dasharray="3.6,2.2"/>
<line x1="148.7" y1="371.7" x2="228.5" y2="371.7" stroke="#111" stroke-width="1.4" stroke-dasharray="3.6,2.2"/>
<line x1="155.3" y1="333" x2="155.3" y2="360" stroke="#111" stroke-width="1.1"/>
<line x1="148.7" y1="347" x2="177" y2="347" stroke="#111" stroke-width="1.1"/>
<text x="163.52" y="345.8" font-family='"Liberation Serif", serif' font-size="9.2" font-weight="bold" fill="#111" textLength="11.5" lengthAdjust="spacingAndGlyphs" stroke="#111" stroke-width="0.2">7.3</text>
<text x="158.97" y="357.3" font-family='"Liberation Serif", serif' font-size="9.2" font-weight="bold" fill="#111" textLength="16.1" lengthAdjust="spacingAndGlyphs" stroke="#111" stroke-width="0.2">21.0</text>
<text x="143" y="339.04" font-family='"Liberation Sans", sans-serif' font-size="9.2" font-weight="normal" fill="#111" textLength="13.04" lengthAdjust="spacingAndGlyphs" stroke="#111" stroke-width="0.3" transform="rotate(-90 143 339.04)">10<tspan font-size="6.9" dy="-4.14">4</tspan></text>
<text x="143" y="395.01" font-family='"Liberation Sans", sans-serif' font-size="9.2" font-weight="normal" fill="#111" textLength="14.47" lengthAdjust="spacingAndGlyphs" stroke="#111" stroke-width="0.3" transform="rotate(-90 143 395.01)">10<tspan font-size="6.9" dy="-4.14">0</tspan></text>
<text x="147.19" y="404" font-family='"Liberation Sans", sans-serif' font-size="9.2" font-weight="normal" fill="#111" textLength="12.54" lengthAdjust="spacingAndGlyphs" stroke="#111" stroke-width="0.3">10<tspan font-size="6.9" dy="-4.14">0</tspan></text>
<text x="220.21" y="404" font-family='"Liberation Sans", sans-serif' font-size="9.2" font-weight="normal" fill="#111" textLength="14.11" lengthAdjust="spacingAndGlyphs" stroke="#111" stroke-width="0.3">10<tspan font-size="6.9" dy="-4.14">4</tspan></text>
<line x1="16.7" y1="365" x2="16.7" y2="411.3" stroke="#111" stroke-width="1.2"/>
<line x1="16.1" y1="411.3" x2="60.2" y2="411.3" stroke="#111" stroke-width="1.2"/>
<text x="18.6" y="363.05" font-family='"Liberation Serif", serif' font-size="10.6" font-weight="bold" fill="#111" textLength="79.42" lengthAdjust="spacingAndGlyphs" stroke="#111" stroke-width="0.2" transform="rotate(-90 18.6 363.05)">Propidium  iodide</text>
<line x1="16.7" y1="283.5" x2="16.7" y2="259" stroke="#111" stroke-width="1.1"/>
<path d="M13.8 263.6 L16.7 257.8 L19.6 263.6" fill="none" stroke="#111" stroke-width="1.1"/>
<text x="65.11" y="413.8" font-family='"Liberation Serif", serif' font-size="9.1" font-weight="bold" fill="#111" textLength="67.94" lengthAdjust="spacingAndGlyphs" stroke="#111" stroke-width="0.2">Annexin V-FITC</text>
<line x1="139" y1="410.4" x2="160.5" y2="410.4" stroke="#111" stroke-width="1.2"/>
<path d="M156.2 407.3 L161.3 410.4 L156.2 413.5" fill="none" stroke="#111" stroke-width="1.2"/>
<text x="257.61" y="219.5" font-family='"Liberation Sans", sans-serif' font-size="17" font-weight="bold" fill="#000" textLength="11.22" lengthAdjust="spacingAndGlyphs">E</text>
<path d="M331 214.17V211.4H334.17M335.68 211.4H339.8V214.17M339.8 216.2V219.8H336.63M335.12 219.8H331V217.03M331 214.8V216.4" fill="none" stroke="#111" stroke-width="1.4"/>
<text x="345.54" y="220.4" font-family='"Liberation Serif", serif' font-size="9.8" font-weight="bold" fill="#111" textLength="44.95" lengthAdjust="spacingAndGlyphs" stroke="#111" stroke-width="0.2">Untreated</text>
<rect x="331.5" y="236.5" width="10.1" height="9.7" fill="#000"/>
<text x="346.34" y="246.2" font-family='"Liberation Serif", serif' font-size="9.8" font-weight="bold" fill="#111" textLength="23.55" lengthAdjust="spacingAndGlyphs" stroke="#111" stroke-width="0.2">H<tspan font-size="6.86" dy="2.94">2</tspan><tspan dy="-2.94">O</tspan><tspan font-size="6.86" dy="2.94">2</tspan></text>
<rect x="331.4" y="255.5" width="8.7" height="8.5" fill="#fff" stroke="#111" stroke-width="1.2"/>
<text x="345.2" y="264.2" font-family='"Liberation Serif", serif' font-size="9.8" font-weight="bold" fill="#111" textLength="57.42" lengthAdjust="spacingAndGlyphs" stroke="#111" stroke-width="0.2">Anti-RLIP76</text>
<rect x="331.9" y="272.6" width="9.3" height="9.6" fill="#858585" stroke="#444" stroke-width="0.8"/>
<text x="347.44" y="282.6" font-family='"Liberation Serif", serif' font-size="9.8" font-weight="bold" fill="#111" textLength="85.16" lengthAdjust="spacingAndGlyphs" stroke="#111" stroke-width="0.2">H<tspan font-size="6.86" dy="2.94">2</tspan><tspan dy="-2.94">O</tspan><tspan font-size="6.86" dy="2.94">2</tspan><tspan dy="-2.94">+anti-RLIP76</tspan></text>
<line x1="291.4" y1="247.2" x2="291.4" y2="387.7" stroke="#111" stroke-width="1.3"/>
<text x="283.63" y="390.6" font-family='"Liberation Serif", serif' font-size="10.8" font-weight="bold" fill="#111" textLength="5.4" lengthAdjust="spacingAndGlyphs" stroke="#111" stroke-width="0.2">0</text>
<line x1="291.4" y1="366.9" x2="294.2" y2="366.9" stroke="#111" stroke-width="1.3"/>
<line x1="291.4" y1="346.7" x2="295.9" y2="346.7" stroke="#111" stroke-width="1.3"/>
<text x="278.23" y="350.2" font-family='"Liberation Serif", serif' font-size="10.8" font-weight="bold" fill="#111" textLength="10.8" lengthAdjust="spacingAndGlyphs" stroke="#111" stroke-width="0.2">10</text>
<line x1="291.4" y1="326.5" x2="294.2" y2="326.5" stroke="#111" stroke-width="1.3"/>
<line x1="291.4" y1="306.3" x2="295.9" y2="306.3" stroke="#111" stroke-width="1.3"/>
<text x="278.23" y="309.8" font-family='"Liberation Serif", serif' font-size="10.8" font-weight="bold" fill="#111" textLength="10.8" lengthAdjust="spacingAndGlyphs" stroke="#111" stroke-width="0.2">20</text>
<line x1="291.4" y1="286.1" x2="294.2" y2="286.1" stroke="#111" stroke-width="1.3"/>
<line x1="291.4" y1="265.9" x2="295.9" y2="265.9" stroke="#111" stroke-width="1.3"/>
<text x="278.23" y="269.4" font-family='"Liberation Serif", serif' font-size="10.8" font-weight="bold" fill="#111" textLength="10.8" lengthAdjust="spacingAndGlyphs" stroke="#111" stroke-width="0.2">30</text>
<line x1="291.4" y1="247.5" x2="294.2" y2="247.5" stroke="#111" stroke-width="1.3"/>
<text x="270.2" y="375.8" font-family='"Liberation Serif", serif' font-size="10" font-weight="bold" fill="#111" textLength="129.04" lengthAdjust="spacingAndGlyphs" stroke="#111" stroke-width="0.2" transform="rotate(-90 270.2 375.8)">Annexin V- positive cells (%)</text>
<line x1="299" y1="361.7" x2="301.5" y2="361.7" stroke="#111" stroke-width="1.2"/>
<line x1="303.7" y1="361.7" x2="308.3" y2="361.7" stroke="#111" stroke-width="1.2"/>
<line x1="310.5" y1="361.7" x2="313" y2="361.7" stroke="#111" stroke-width="1.2"/>
<line x1="299.6" y1="361.1" x2="299.6" y2="387.1" stroke="#111" stroke-width="1.2" stroke-dasharray="6.5,2" stroke-dashoffset="3.5"/>
<line x1="312.4" y1="361.1" x2="312.4" y2="387.1" stroke="#111" stroke-width="1.2" stroke-dasharray="6.5,2" stroke-dashoffset="3.5"/>
<line x1="306" y1="361.1" x2="306" y2="352.7" stroke="#111" stroke-width="1.35"/>
<line x1="302.75" y1="352.7" x2="309.25" y2="352.7" stroke="#111" stroke-width="1.65"/>
<rect x="326.3" y="338" width="12.8" height="49.1" fill="#000"/>
<line x1="332.7" y1="338" x2="332.7" y2="326.7" stroke="#111" stroke-width="1.35"/>
<line x1="329.45" y1="326.7" x2="335.95" y2="326.7" stroke="#111" stroke-width="1.65"/>
<rect x="339.7" y="335.4" width="11.6" height="51.7" fill="#fff" stroke="#111" stroke-width="1.2"/>
<line x1="345.5" y1="334.8" x2="345.5" y2="318.3" stroke="#111" stroke-width="1.35"/>
<line x1="342.25" y1="318.3" x2="348.75" y2="318.3" stroke="#111" stroke-width="1.65"/>
<rect x="352.3" y="334.4" width="12" height="52.7" fill="#858585" stroke="#222" stroke-width="0.8"/>
<line x1="358.3" y1="334" x2="358.3" y2="319.6" stroke="#111" stroke-width="1.35"/>
<line x1="355.05" y1="319.6" x2="361.55" y2="319.6" stroke="#111" stroke-width="1.65"/>
<rect x="375" y="335.8" width="12.8" height="51.3" fill="#000"/>
<line x1="381.4" y1="335.8" x2="381.4" y2="324.9" stroke="#111" stroke-width="1.35"/>
<line x1="378.15" y1="324.9" x2="384.65" y2="324.9" stroke="#111" stroke-width="1.65"/>
<rect x="388.4" y="332.6" width="11.6" height="54.5" fill="#fff" stroke="#111" stroke-width="1.2"/>
<line x1="394.2" y1="332" x2="394.2" y2="320.4" stroke="#111" stroke-width="1.35"/>
<line x1="390.95" y1="320.4" x2="397.45" y2="320.4" stroke="#111" stroke-width="1.65"/>
<rect x="401" y="328.7" width="12" height="58.4" fill="#858585" stroke="#222" stroke-width="0.8"/>
<line x1="407" y1="328.3" x2="407" y2="313.6" stroke="#111" stroke-width="1.35"/>
<line x1="403.75" y1="313.6" x2="410.25" y2="313.6" stroke="#111" stroke-width="1.65"/>
<rect x="424.5" y="338.4" width="12.8" height="48.7" fill="#000"/>
<line x1="430.9" y1="338.4" x2="430.9" y2="330.9" stroke="#111" stroke-width="1.35"/>
<line x1="427.65" y1="330.9" x2="434.15" y2="330.9" stroke="#111" stroke-width="1.65"/>
<rect x="437.9" y="321" width="11.6" height="66.1" fill="#fff" stroke="#111" stroke-width="1.2"/>
<line x1="443.7" y1="320.4" x2="443.7" y2="308.4" stroke="#111" stroke-width="1.35"/>
<line x1="440.45" y1="308.4" x2="446.95" y2="308.4" stroke="#111" stroke-width="1.65"/>
<rect x="450.5" y="309.1" width="12" height="78" fill="#858585" stroke="#222" stroke-width="0.8"/>
<line x1="456.5" y1="308.7" x2="456.5" y2="292.2" stroke="#111" stroke-width="1.35"/>
<line x1="453.25" y1="292.2" x2="459.75" y2="292.2" stroke="#111" stroke-width="1.65"/>
<rect x="473.5" y="338.7" width="12.8" height="48.4" fill="#000"/>
<line x1="479.9" y1="338.7" x2="479.9" y2="330" stroke="#111" stroke-width="1.35"/>
<line x1="476.65" y1="330" x2="483.15" y2="330" stroke="#111" stroke-width="1.65"/>
<rect x="486.9" y="292.8" width="11.6" height="94.3" fill="#fff" stroke="#111" stroke-width="1.2"/>
<line x1="492.7" y1="292.2" x2="492.7" y2="279.7" stroke="#111" stroke-width="1.35"/>
<line x1="489.45" y1="279.7" x2="495.95" y2="279.7" stroke="#111" stroke-width="1.65"/>
<rect x="499.5" y="279" width="12" height="108.1" fill="#858585" stroke="#222" stroke-width="0.8"/>
<line x1="505.5" y1="278.6" x2="505.5" y2="259.6" stroke="#111" stroke-width="1.35"/>
<line x1="502.25" y1="259.6" x2="508.75" y2="259.6" stroke="#111" stroke-width="1.65"/>
<text x="330.71" y="401.5" font-family='"Liberation Serif", serif' font-size="10.3" font-weight="bold" fill="#111" textLength="29.98" lengthAdjust="spacingAndGlyphs" stroke="#111" stroke-width="0.2">30min</text>
<text x="389.51" y="401.5" font-family='"Liberation Serif", serif' font-size="10.3" font-weight="bold" fill="#111" textLength="11.77" lengthAdjust="spacingAndGlyphs" stroke="#111" stroke-width="0.2">6h</text>
<text x="435.25" y="401.5" font-family='"Liberation Serif", serif' font-size="10.3" font-weight="bold" fill="#111" textLength="17.64" lengthAdjust="spacingAndGlyphs" stroke="#111" stroke-width="0.2">24h</text>
<text x="483.63" y="401.5" font-family='"Liberation Serif", serif' font-size="10.3" font-weight="bold" fill="#111" textLength="17.65" lengthAdjust="spacingAndGlyphs" stroke="#111" stroke-width="0.2">48h</text>
<text x="0.67" y="439.3" font-family='"Liberation Sans", sans-serif' font-size="17" font-weight="bold" fill="#000" textLength="10.66" lengthAdjust="spacingAndGlyphs">F</text>
<rect x="44.4" y="426.6" width="8.7" height="8.9" fill="#fff" stroke="#333" stroke-width="1.2" stroke-dasharray="1.6,1.4"/>
<text x="56.72" y="436.1" font-family='"Liberation Serif", serif' font-size="8.4" font-weight="bold" fill="#111" textLength="46.54" lengthAdjust="spacingAndGlyphs" stroke="#111" stroke-width="0.2">Anti-RLIP76</text>
<rect x="43" y="441.5" width="9.8" height="9" fill="#000"/>
<text x="57.02" y="450.9" font-family='"Liberation Serif", serif' font-size="8.4" font-weight="bold" fill="#111" textLength="22.4" lengthAdjust="spacingAndGlyphs" stroke="#111" stroke-width="0.2">zVAD</text>
<rect x="43.4" y="456.7" width="9" height="8.6" fill="#858585" stroke="#444" stroke-width="0.8"/>
<text x="55.91" y="465.3" font-family='"Liberation Serif", serif' font-size="8.4" font-weight="bold" fill="#111" textLength="30.65" lengthAdjust="spacingAndGlyphs" stroke="#111" stroke-width="0.2">α-TCPH</text>
<path d="M112.2 436.1V427.6H119.5V436.1" fill="none" stroke="#111" stroke-width="1.1"/>
<text x="124.03" y="434.5" font-family='"Liberation Serif", serif' font-size="8.4" font-weight="bold" fill="#111" textLength="74.52" lengthAdjust="spacingAndGlyphs" stroke="#111" stroke-width="0.2">zVAD + anti-RLIP76</text>
<rect x="112.15" y="441.15" width="7.8" height="7.6" fill="#fff" stroke="#111" stroke-width="1.1"/>
<line x1="112.8" y1="446.1" x2="117.3" y2="441.8" stroke="#111" stroke-width="1"/>
<line x1="114.8" y1="448.1" x2="119.3" y2="443.8" stroke="#111" stroke-width="1"/>
<text x="124.31" y="448.7" font-family='"Liberation Serif", serif' font-size="8.4" font-weight="bold" fill="#111" textLength="84.33" lengthAdjust="spacingAndGlyphs" stroke="#111" stroke-width="0.2">α-TCPH + anti-RLIP76</text>
<line x1="34.9" y1="451.9" x2="34.9" y2="599" stroke="#111" stroke-width="1.3"/>
<text x="25.21" y="602.6" font-family='"Liberation Serif", serif' font-size="11.5" font-weight="bold" fill="#111" textLength="5.75" lengthAdjust="spacingAndGlyphs" stroke="#111" stroke-width="0.2">0</text>
<line x1="34.9" y1="574.08" x2="39.4" y2="574.08" stroke="#111" stroke-width="1.3"/>
<text x="25.15" y="578.28" font-family='"Liberation Serif", serif' font-size="11.5" font-weight="bold" fill="#111" textLength="5.75" lengthAdjust="spacingAndGlyphs" stroke="#111" stroke-width="0.2">5</text>
<line x1="34.9" y1="549.77" x2="39.4" y2="549.77" stroke="#111" stroke-width="1.3"/>
<text x="19.46" y="553.97" font-family='"Liberation Serif", serif' font-size="11.5" font-weight="bold" fill="#111" textLength="11.5" lengthAdjust="spacingAndGlyphs" stroke="#111" stroke-width="0.2">10</text>
<line x1="34.9" y1="525.45" x2="39.4" y2="525.45" stroke="#111" stroke-width="1.3"/>
<text x="19.4" y="529.65" font-family='"Liberation Serif", serif' font-size="11.5" font-weight="bold" fill="#111" textLength="11.5" lengthAdjust="spacingAndGlyphs" stroke="#111" stroke-width="0.2">15</text>
<line x1="34.9" y1="501.13" x2="39.4" y2="501.13" stroke="#111" stroke-width="1.3"/>
<text x="19.46" y="505.33" font-family='"Liberation Serif", serif' font-size="11.5" font-weight="bold" fill="#111" textLength="11.5" lengthAdjust="spacingAndGlyphs" stroke="#111" stroke-width="0.2">20</text>
<line x1="34.9" y1="476.82" x2="39.4" y2="476.82" stroke="#111" stroke-width="1.3"/>
<text x="19.4" y="481.02" font-family='"Liberation Serif", serif' font-size="11.5" font-weight="bold" fill="#111" textLength="11.5" lengthAdjust="spacingAndGlyphs" stroke="#111" stroke-width="0.2">25</text>
<line x1="34.9" y1="452.5" x2="39.4" y2="452.5" stroke="#111" stroke-width="1.3"/>
<text x="19.46" y="456.7" font-family='"Liberation Serif", serif' font-size="11.5" font-weight="bold" fill="#111" textLength="11.5" lengthAdjust="spacingAndGlyphs" stroke="#111" stroke-width="0.2">30</text>
<line x1="34.9" y1="586.24" x2="37.8" y2="586.24" stroke="#111" stroke-width="1.3"/>
<line x1="34.9" y1="561.92" x2="37.8" y2="561.92" stroke="#111" stroke-width="1.3"/>
<line x1="34.9" y1="537.61" x2="37.8" y2="537.61" stroke="#111" stroke-width="1.3"/>
<line x1="34.9" y1="513.29" x2="37.8" y2="513.29" stroke="#111" stroke-width="1.3"/>
<line x1="34.9" y1="488.98" x2="37.8" y2="488.98" stroke="#111" stroke-width="1.3"/>
<line x1="34.9" y1="464.66" x2="37.8" y2="464.66" stroke="#111" stroke-width="1.3"/>
<text x="9.6" y="561.91" font-family='"Liberation Serif", serif' font-size="11.4" font-weight="bold" fill="#111" textLength="94.18" lengthAdjust="spacingAndGlyphs" transform="rotate(-90 9.6 561.91)">Apoptotic cells (%)</text>
<line x1="56.6" y1="535.1" x2="58.8" y2="535.1" stroke="#111" stroke-width="1.2"/>
<line x1="61" y1="535.1" x2="66" y2="535.1" stroke="#111" stroke-width="1.2"/>
<line x1="68.2" y1="535.1" x2="70.4" y2="535.1" stroke="#111" stroke-width="1.2"/>
<line x1="57.2" y1="534.5" x2="57.2" y2="598.4" stroke="#111" stroke-width="1.2" stroke-dasharray="6,2.5" stroke-dashoffset="3.5"/>
<line x1="69.8" y1="534.5" x2="69.8" y2="598.4" stroke="#111" stroke-width="1.2" stroke-dasharray="6,2.5" stroke-dashoffset="3.5"/>
<line x1="63" y1="534.5" x2="63" y2="515.8" stroke="#111" stroke-width="1.35"/>
<line x1="59.25" y1="515.8" x2="66.75" y2="515.8" stroke="#111" stroke-width="1.65"/>
<rect x="77.1" y="578.1" width="13.15" height="20.3" fill="#000"/>
<line x1="82.6" y1="578.1" x2="82.6" y2="567.5" stroke="#111" stroke-width="1.35"/>
<line x1="79.3" y1="567.5" x2="85.9" y2="567.5" stroke="#111" stroke-width="1.65"/>
<rect x="90.65" y="581.9" width="12.35" height="16.5" fill="#858585" stroke="#222" stroke-width="0.8"/>
<line x1="96.4" y1="581.5" x2="96.4" y2="572.25" stroke="#111" stroke-width="1.35"/>
<line x1="93.1" y1="572.25" x2="99.7" y2="572.25" stroke="#111" stroke-width="1.65"/>
<rect x="104.1" y="567.1" width="12.8" height="31.3" fill="#fff" stroke="#111" stroke-width="1.2"/>
<line x1="109.9" y1="566.5" x2="109.9" y2="558.5" stroke="#111" stroke-width="1.35"/>
<line x1="106.45" y1="558.5" x2="113.35" y2="558.5" stroke="#111" stroke-width="1.65"/>
<rect x="118.5" y="576.5" width="12.15" height="21.9" fill="url(#hatch)" stroke="#111" stroke-width="1.2"/>
<line x1="123.5" y1="575.9" x2="123.5" y2="567.9" stroke="#111" stroke-width="1.35"/>
<line x1="120.05" y1="567.9" x2="126.95" y2="567.9" stroke="#111" stroke-width="1.65"/>
<line x1="152" y1="483" x2="154.2" y2="483" stroke="#111" stroke-width="1.2"/>
<line x1="156.4" y1="483" x2="162" y2="483" stroke="#111" stroke-width="1.2"/>
<line x1="164.2" y1="483" x2="166.4" y2="483" stroke="#111" stroke-width="1.2"/>
<line x1="152.6" y1="482.4" x2="152.6" y2="598.4" stroke="#111" stroke-width="1.2" stroke-dasharray="6,2.5" stroke-dashoffset="3.5"/>
<line x1="165.8" y1="482.4" x2="165.8" y2="598.4" stroke="#111" stroke-width="1.2" stroke-dasharray="6,2.5" stroke-dashoffset="3.5"/>
<line x1="159.25" y1="482.4" x2="159.25" y2="460.6" stroke="#111" stroke-width="1.35"/>
<line x1="155.6" y1="460.6" x2="162.9" y2="460.6" stroke="#111" stroke-width="1.65"/>
<rect x="173.9" y="574.5" width="13.3" height="23.9" fill="#000"/>
<line x1="179.6" y1="574.5" x2="179.6" y2="565.7" stroke="#111" stroke-width="1.35"/>
<line x1="176.5" y1="565.7" x2="182.7" y2="565.7" stroke="#111" stroke-width="1.65"/>
<rect x="187.6" y="579.9" width="12.5" height="18.5" fill="#858585" stroke="#222" stroke-width="0.8"/>
<line x1="193.2" y1="579.5" x2="193.2" y2="571" stroke="#111" stroke-width="1.35"/>
<line x1="190.1" y1="571" x2="196.3" y2="571" stroke="#111" stroke-width="1.65"/>
<rect x="201.1" y="544.2" width="12.9" height="54.2" fill="#fff" stroke="#111" stroke-width="1.2"/>
<line x1="207.1" y1="543.6" x2="207.1" y2="532.4" stroke="#111" stroke-width="1.35"/>
<line x1="203.8" y1="532.4" x2="210.4" y2="532.4" stroke="#111" stroke-width="1.65"/>
<rect x="215.2" y="569" width="12.1" height="29.4" fill="url(#hatch)" stroke="#111" stroke-width="1.2"/>
<line x1="220.4" y1="568.4" x2="220.4" y2="557.2" stroke="#111" stroke-width="1.35"/>
<line x1="217.1" y1="557.2" x2="223.7" y2="557.2" stroke="#111" stroke-width="1.65"/>
<line x1="72" y1="515.4" x2="117.7" y2="515.4" stroke="#111" stroke-width="1.3"/>
<line x1="117.1" y1="515.4" x2="117.1" y2="527.5" stroke="#111" stroke-width="1.25"/>
<line x1="118.2" y1="530.6" x2="118.2" y2="536.2" stroke="#222" stroke-width="1.25"/>
<line x1="115.78" y1="532" x2="120.62" y2="534.8" stroke="#222" stroke-width="1.25"/>
<line x1="120.62" y1="532" x2="115.78" y2="534.8" stroke="#222" stroke-width="1.25"/>
<line x1="117.1" y1="538.7" x2="117.1" y2="551.6" stroke="#111" stroke-width="1.25"/>
<line x1="103.3" y1="555" x2="131.2" y2="555" stroke="#111" stroke-width="1.4"/>
<line x1="166.4" y1="461.2" x2="211.8" y2="461.2" stroke="#111" stroke-width="1.3"/>
<line x1="211.2" y1="461.2" x2="211.2" y2="485.3" stroke="#111" stroke-width="1.25"/>
<line x1="212.1" y1="490.3" x2="212.1" y2="495.9" stroke="#222" stroke-width="1.25"/>
<line x1="209.68" y1="491.7" x2="214.52" y2="494.5" stroke="#222" stroke-width="1.25"/>
<line x1="214.52" y1="491.7" x2="209.68" y2="494.5" stroke="#222" stroke-width="1.25"/>
<line x1="211.2" y1="499.7" x2="211.2" y2="524.4" stroke="#111" stroke-width="1.25"/>
<line x1="198.6" y1="527.2" x2="227.9" y2="527.2" stroke="#111" stroke-width="1.4"/>
<text x="80.85" y="611" font-family='"Liberation Serif", serif' font-size="10.3" font-weight="bold" fill="#111" textLength="15.56" lengthAdjust="spacingAndGlyphs" stroke="#111" stroke-width="0.2">24h</text>
<text x="180.32" y="611.5" font-family='"Liberation Serif", serif' font-size="10.3" font-weight="bold" fill="#111" textLength="19.08" lengthAdjust="spacingAndGlyphs" stroke="#111" stroke-width="0.2">48h</text>
<text x="258.45" y="438.5" font-family='"Liberation Sans", sans-serif' font-size="17" font-weight="bold" fill="#000" textLength="14.63" lengthAdjust="spacingAndGlyphs">G</text>
<rect x="321" y="440.7" width="11.5" height="10.6" fill="#fff" stroke="#111" stroke-width="1.2"/>
<text x="340.63" y="450" font-family='"Liberation Serif", serif' font-size="10.3" font-weight="bold" fill="#111" textLength="47.12" lengthAdjust="spacingAndGlyphs" stroke="#111" stroke-width="0.2">untreated</text>
<rect x="321.9" y="460.5" width="12.2" height="12.3" fill="#000"/>
<text x="340" y="467.5" font-family='"Liberation Serif", serif' font-size="10.3" font-weight="bold" fill="#111" textLength="58.13" lengthAdjust="spacingAndGlyphs" stroke="#111" stroke-width="0.2">Anti-RLIP76</text>
<rect x="322.3" y="480.5" width="12.4" height="11.5" fill="#858585" stroke="#444" stroke-width="0.8"/>
<text x="341.53" y="486.5" font-family='"Liberation Serif", serif' font-size="10.3" font-weight="bold" fill="#111" textLength="106.87" lengthAdjust="spacingAndGlyphs" stroke="#111" stroke-width="0.2">α-TCPH + anti-RLIP76</text>
<line x1="300.8" y1="452.7" x2="300.8" y2="598.3" stroke="#111" stroke-width="1.3"/>
<text x="289.63" y="601.6" font-family='"Liberation Serif", serif' font-size="10.8" font-weight="bold" fill="#111" textLength="5.4" lengthAdjust="spacingAndGlyphs" stroke="#111" stroke-width="0.2">0</text>
<line x1="300.8" y1="561.6" x2="305.5" y2="561.6" stroke="#111" stroke-width="1.3"/>
<text x="289.58" y="565.5" font-family='"Liberation Serif", serif' font-size="10.8" font-weight="bold" fill="#111" textLength="5.4" lengthAdjust="spacingAndGlyphs" stroke="#111" stroke-width="0.2">5</text>
<line x1="300.8" y1="525.5" x2="305.5" y2="525.5" stroke="#111" stroke-width="1.3"/>
<text x="284.23" y="529.4" font-family='"Liberation Serif", serif' font-size="10.8" font-weight="bold" fill="#111" textLength="10.8" lengthAdjust="spacingAndGlyphs" stroke="#111" stroke-width="0.2">10</text>
<line x1="300.8" y1="489.4" x2="305.5" y2="489.4" stroke="#111" stroke-width="1.3"/>
<text x="284.18" y="493.3" font-family='"Liberation Serif", serif' font-size="10.8" font-weight="bold" fill="#111" textLength="10.8" lengthAdjust="spacingAndGlyphs" stroke="#111" stroke-width="0.2">15</text>
<line x1="300.8" y1="453.3" x2="305.5" y2="453.3" stroke="#111" stroke-width="1.3"/>
<text x="284.23" y="457.2" font-family='"Liberation Serif", serif' font-size="10.8" font-weight="bold" fill="#111" textLength="10.8" lengthAdjust="spacingAndGlyphs" stroke="#111" stroke-width="0.2">20</text>
<line x1="300.8" y1="579.65" x2="303.3" y2="579.65" stroke="#111" stroke-width="1.3"/>
<line x1="300.8" y1="543.55" x2="303.3" y2="543.55" stroke="#111" stroke-width="1.3"/>
<line x1="300.8" y1="507.45" x2="303.3" y2="507.45" stroke="#111" stroke-width="1.3"/>
<line x1="300.8" y1="471.35" x2="303.3" y2="471.35" stroke="#111" stroke-width="1.3"/>
<text x="266.3" y="570.01" font-family='"Liberation Serif", serif' font-size="11" font-weight="bold" fill="#111" textLength="95.62" lengthAdjust="spacingAndGlyphs" stroke="#111" stroke-width="0.2" transform="rotate(-90 266.3 570.01)">JNK(pT183/pY185)</text>
<text x="279.8" y="562.31" font-family='"Liberation Serif", serif' font-size="11" font-weight="bold" fill="#111" textLength="81.98" lengthAdjust="spacingAndGlyphs" stroke="#111" stroke-width="0.2" transform="rotate(-90 279.8 562.31)">positive cells (%)</text>
<rect x="312.35" y="588.1" width="15.7" height="9.6" fill="#fff" stroke="#111" stroke-width="1.2"/>
<line x1="320.2" y1="587.5" x2="320.2" y2="580.5" stroke="#111" stroke-width="1.35"/>
<line x1="315.8" y1="580.5" x2="324.6" y2="580.5" stroke="#111" stroke-width="1.65"/>
<rect x="328.65" y="571.75" width="16.9" height="25.95" fill="#000"/>
<line x1="337.1" y1="571.75" x2="337.1" y2="561.25" stroke="#111" stroke-width="1.35"/>
<line x1="332.7" y1="561.25" x2="341.5" y2="561.25" stroke="#111" stroke-width="1.65"/>
<rect x="345.95" y="582.4" width="16.1" height="15.3" fill="#858585" stroke="#222" stroke-width="0.8"/>
<line x1="354" y1="582" x2="354" y2="574.5" stroke="#111" stroke-width="1.35"/>
<line x1="349.6" y1="574.5" x2="358.4" y2="574.5" stroke="#111" stroke-width="1.65"/>
<rect x="384.8" y="585.4" width="15.7" height="12.3" fill="#fff" stroke="#111" stroke-width="1.2"/>
<line x1="392.65" y1="584.8" x2="392.65" y2="578" stroke="#111" stroke-width="1.35"/>
<line x1="388.25" y1="578" x2="397.05" y2="578" stroke="#111" stroke-width="1.65"/>
<rect x="401.1" y="525.5" width="16.9" height="72.2" fill="#000"/>
<line x1="409.55" y1="525.5" x2="409.55" y2="511.5" stroke="#111" stroke-width="1.35"/>
<line x1="405.15" y1="511.5" x2="413.95" y2="511.5" stroke="#111" stroke-width="1.65"/>
<rect x="418.4" y="585.2" width="16.1" height="12.5" fill="#858585" stroke="#222" stroke-width="0.8"/>
<line x1="426.45" y1="584.8" x2="426.45" y2="578" stroke="#111" stroke-width="1.35"/>
<line x1="422.05" y1="578" x2="430.85" y2="578" stroke="#111" stroke-width="1.65"/>
<rect x="458.6" y="588.1" width="15.7" height="9.6" fill="#fff" stroke="#111" stroke-width="1.2"/>
<line x1="466.45" y1="587.5" x2="466.45" y2="579.4" stroke="#111" stroke-width="1.35"/>
<line x1="462.05" y1="579.4" x2="470.85" y2="579.4" stroke="#111" stroke-width="1.65"/>
<rect x="474.9" y="487.1" width="16.9" height="110.6" fill="#000"/>
<line x1="483.35" y1="487.1" x2="483.35" y2="457.9" stroke="#111" stroke-width="1.35"/>
<line x1="478.95" y1="457.9" x2="487.75" y2="457.9" stroke="#111" stroke-width="1.65"/>
<rect x="492.2" y="582.4" width="16.1" height="15.3" fill="#858585" stroke="#222" stroke-width="0.8"/>
<line x1="500.25" y1="582" x2="500.25" y2="573.5" stroke="#111" stroke-width="1.35"/>
<line x1="495.85" y1="573.5" x2="504.65" y2="573.5" stroke="#111" stroke-width="1.65"/>
<text x="333.3" y="610.8" font-family='"Liberation Serif", serif' font-size="10.3" font-weight="bold" fill="#111" textLength="12.09" lengthAdjust="spacingAndGlyphs" stroke="#111" stroke-width="0.2">6h</text>
<text x="402.47" y="610.8" font-family='"Liberation Serif", serif' font-size="10.3" font-weight="bold" fill="#111" textLength="16.91" lengthAdjust="spacingAndGlyphs" stroke="#111" stroke-width="0.2">24h</text>
<text x="475.43" y="610" font-family='"Liberation Serif", serif' font-size="10.3" font-weight="bold" fill="#111" textLength="17.25" lengthAdjust="spacingAndGlyphs" stroke="#111" stroke-width="0.2">48h</text>
<line x1="393" y1="511" x2="393" y2="568" stroke="#111" stroke-width="1.1"/>
<line x1="392.5" y1="511" x2="400" y2="511" stroke="#111" stroke-width="1.3"/>
<line x1="419.8" y1="511" x2="427.6" y2="511" stroke="#111" stroke-width="1.3"/>
<line x1="427.2" y1="511" x2="427.2" y2="573.3" stroke="#111" stroke-width="1.1"/>
<line x1="409.9" y1="503.5" x2="409.9" y2="509.1" stroke="#222" stroke-width="1.25"/>
<line x1="407.48" y1="504.9" x2="412.32" y2="507.7" stroke="#222" stroke-width="1.25"/>
<line x1="412.32" y1="504.9" x2="407.48" y2="507.7" stroke="#222" stroke-width="1.25"/>
<line x1="466.2" y1="457.9" x2="466.2" y2="571.6" stroke="#111" stroke-width="1.1"/>
<line x1="465.7" y1="457.9" x2="472.3" y2="457.9" stroke="#111" stroke-width="1.3"/>
<line x1="492.7" y1="457.9" x2="500.3" y2="457.9" stroke="#111" stroke-width="1.3"/>
<line x1="499.8" y1="457.9" x2="499.8" y2="564.6" stroke="#111" stroke-width="1.1"/>
<line x1="482.5" y1="448.9" x2="482.5" y2="454.5" stroke="#222" stroke-width="1.25"/>
<line x1="480.08" y1="450.3" x2="484.92" y2="453.1" stroke="#222" stroke-width="1.25"/>
<line x1="484.92" y1="450.3" x2="480.08" y2="453.1" stroke="#222" stroke-width="1.25"/>
<line x1="27.6" y1="179.7" x2="155" y2="179.7" stroke="#111" stroke-width="1.3"/>
<line x1="193.4" y1="180.1" x2="337.5" y2="180.1" stroke="#111" stroke-width="1.3"/>
<line x1="374.3" y1="180" x2="515.5" y2="180" stroke="#111" stroke-width="1.3"/>
<line x1="290.8" y1="387.1" x2="516" y2="387.1" stroke="#111" stroke-width="1.3"/>
<line x1="34.3" y1="598.4" x2="232.5" y2="598.4" stroke="#111" stroke-width="1.3"/>
<line x1="300.2" y1="597.7" x2="520" y2="597.7" stroke="#111" stroke-width="1.3"/>
</svg>
</body></html>
